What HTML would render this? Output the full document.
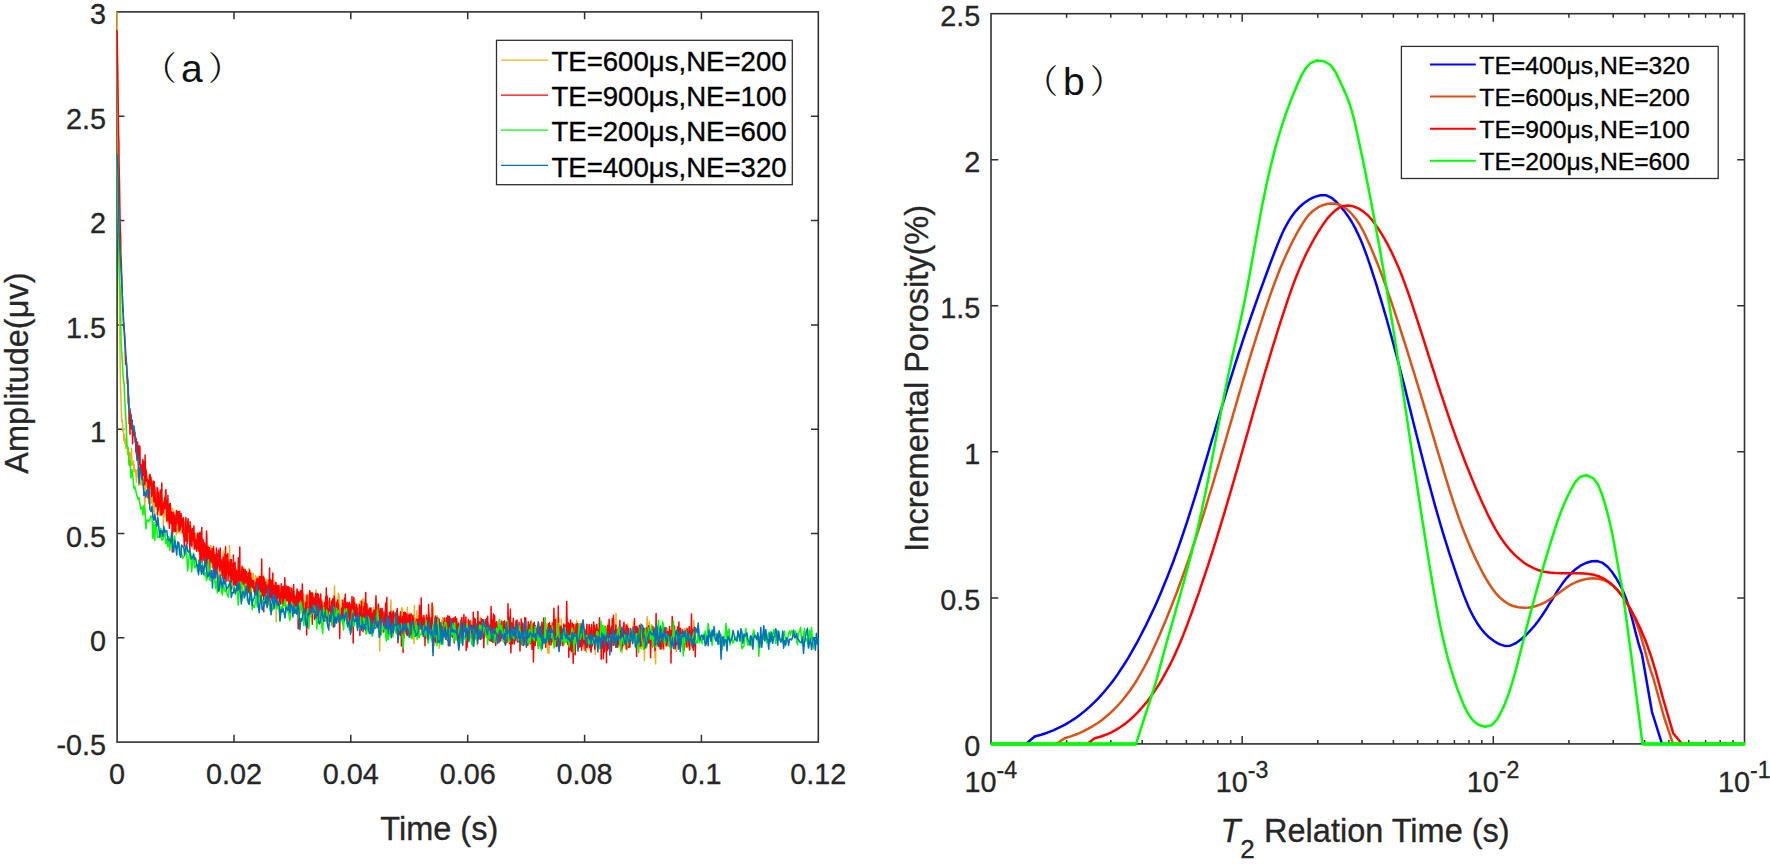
<!DOCTYPE html>
<html lang="en"><head><meta charset="utf-8"><title>NMR echo decay and T2 distribution</title>
<style>html,body{margin:0;padding:0;background:#fff}body{width:1770px;height:864px;overflow:hidden}</style></head>
<body>
<svg width="1770" height="864" viewBox="0 0 1770 864" style="display:block;font-family:'Liberation Sans', 'Noto Sans CJK SC', sans-serif">
<rect width="1770" height="864" fill="#fff"/>
<defs><clipPath id="cl"><rect x="116.1" y="10.9" width="703.0" height="732.2"/></clipPath></defs>
<rect x="117.1" y="11.9" width="701.2" height="730.2" fill="none" stroke="#303030" stroke-width="1.6"/>
<path d="M234.0 742.1v-7.3M234.0 11.9v7.3M350.8 742.1v-7.3M350.8 11.9v7.3M467.7 742.1v-7.3M467.7 11.9v7.3M584.6 742.1v-7.3M584.6 11.9v7.3M701.4 742.1v-7.3M701.4 11.9v7.3M117.1 637.8h7.3M818.3 637.8h-7.3M117.1 533.5h7.3M818.3 533.5h-7.3M117.1 429.2h7.3M818.3 429.2h-7.3M117.1 324.9h7.3M818.3 324.9h-7.3M117.1 220.6h7.3M818.3 220.6h-7.3M117.1 116.3h7.3M818.3 116.3h-7.3" stroke="#303030" stroke-width="1.5" fill="none"/>
<rect x="991.0" y="13.7" width="753.5" height="730.2" fill="none" stroke="#303030" stroke-width="1.6"/>
<path d="M1066.6 743.9v-4.0M1066.6 13.7v4.0M1110.8 743.9v-4.0M1110.8 13.7v4.0M1142.2 743.9v-4.0M1142.2 13.7v4.0M1166.6 743.9v-4.0M1166.6 13.7v4.0M1186.4 743.9v-4.0M1186.4 13.7v4.0M1203.3 743.9v-4.0M1203.3 13.7v4.0M1217.8 743.9v-4.0M1217.8 13.7v4.0M1230.7 743.9v-4.0M1230.7 13.7v4.0M1242.2 743.9v-8.0M1242.2 13.7v8.0M1317.8 743.9v-4.0M1317.8 13.7v4.0M1362.0 743.9v-4.0M1362.0 13.7v4.0M1393.4 743.9v-4.0M1393.4 13.7v4.0M1417.7 743.9v-4.0M1417.7 13.7v4.0M1437.6 743.9v-4.0M1437.6 13.7v4.0M1454.4 743.9v-4.0M1454.4 13.7v4.0M1469.0 743.9v-4.0M1469.0 13.7v4.0M1481.8 743.9v-4.0M1481.8 13.7v4.0M1493.3 743.9v-8.0M1493.3 13.7v8.0M1568.9 743.9v-4.0M1568.9 13.7v4.0M1613.2 743.9v-4.0M1613.2 13.7v4.0M1644.6 743.9v-4.0M1644.6 13.7v4.0M1668.9 743.9v-4.0M1668.9 13.7v4.0M1688.8 743.9v-4.0M1688.8 13.7v4.0M1705.6 743.9v-4.0M1705.6 13.7v4.0M1720.2 743.9v-4.0M1720.2 13.7v4.0M1733.0 743.9v-4.0M1733.0 13.7v4.0M991.0 597.9h7.3M1744.5 597.9h-7.3M991.0 451.8h7.3M1744.5 451.8h-7.3M991.0 305.8h7.3M1744.5 305.8h-7.3M991.0 159.7h7.3M1744.5 159.7h-7.3" stroke="#303030" stroke-width="1.5" fill="none"/>
<g fill="none" stroke-width="1.5" stroke-linejoin="round" clip-path="url(#cl)">
<polyline stroke="#EDB120" points="117.1,12.0 117.5,63.2 117.8,115.9 118.2,160.4 118.5,200.7 118.9,241.1 119.2,276.3 119.6,314.1 119.9,344.3 120.3,372.1 120.6,388.2 121.0,399.5 121.3,409.7 121.7,418.9 122.0,422.1 122.4,420.5 122.7,430.5 123.1,431.4 123.4,429.1 123.8,440.4 124.1,436.4 124.5,434.4 124.8,443.5 125.2,439.5 125.5,438.8 125.9,448.6 126.2,439.3 126.6,443.8 126.9,445.8 127.3,449.3 127.6,454.5 128.0,451.3 128.3,453.9 128.7,453.8 129.0,455.1 129.4,465.3 129.7,452.3 130.1,460.1 130.4,458.1 130.8,466.0 131.1,461.2 131.5,448.5 131.8,460.3 132.2,465.3 132.5,464.9 132.9,462.0 133.2,464.9 133.6,461.0 133.9,472.1 134.3,465.2 134.6,471.1 135.0,471.9 135.3,469.5 135.7,472.1 136.0,474.7 136.4,482.2 136.7,470.2 137.1,471.8 137.4,475.4 137.8,476.7 138.1,469.0 138.5,474.1 138.8,485.6 139.2,481.6 139.5,476.9 139.9,483.8 140.2,470.9 140.6,484.8 140.9,473.7 141.3,481.0 141.6,474.4 142.0,474.5 142.3,485.2 142.7,482.5 143.0,477.5 143.4,482.7 143.7,490.0 144.1,478.5 144.4,488.2 144.8,514.2 145.1,490.7 145.5,486.0 145.8,485.7 146.2,479.6 146.6,484.4 146.9,475.1 147.3,486.8 147.6,488.4 148.0,499.0 148.3,483.7 148.7,481.7 149.0,479.3 149.4,474.2 149.7,478.9 150.1,493.8 150.4,490.3 150.8,503.5 151.1,486.4 151.5,485.9 151.8,484.2 152.2,500.7 152.5,504.2 152.9,511.5 153.2,483.1 153.6,502.2 153.9,490.1 154.3,515.3 154.6,490.5 155.0,506.0 155.3,494.3 155.7,491.0 156.0,503.1 156.4,497.4 156.7,496.6 157.1,492.8 157.4,491.0 157.8,507.7 158.1,506.2 158.5,498.2 158.8,509.1 159.2,515.6 159.5,501.4 159.9,509.9 160.2,498.3 160.6,491.1 160.9,514.1 161.3,498.2 161.6,500.0 162.0,496.9 162.3,505.4 162.7,513.8 163.0,500.3 163.4,526.0 163.7,514.6 164.1,510.2 164.4,505.2 164.8,503.1 165.1,516.9 165.5,507.5 165.8,505.1 166.2,510.6 166.5,509.1 166.9,521.6 167.2,517.1 167.6,507.1 167.9,513.3 168.3,523.7 168.6,518.1 169.0,523.3 169.3,522.0 169.7,519.0 170.0,515.3 170.4,512.3 170.7,506.2 171.1,524.1 171.4,520.6 171.8,515.8 172.1,509.2 172.5,508.5 172.8,523.8 173.2,528.7 173.5,512.8 173.9,511.2 174.2,520.9 174.6,515.0 174.9,513.5 175.3,518.9 175.7,514.0 176.0,531.2 176.4,534.8 176.7,526.8 177.1,530.2 177.4,514.9 177.8,532.7 178.1,520.3 178.5,532.5 178.8,531.7 179.2,526.3 179.5,531.3 179.9,524.9 180.2,525.0 180.6,529.6 180.9,521.6 181.3,533.4 181.6,524.4 182.0,530.2 182.3,530.1 182.7,533.8 183.0,520.0 183.4,522.1 183.7,536.8 184.1,531.9 184.4,534.9 184.8,521.6 185.1,530.7 185.5,530.6 185.8,522.6 186.2,519.0 186.5,528.7 186.9,530.1 187.2,527.4 187.6,541.4 187.9,528.2 188.3,524.6 188.6,531.7 189.0,531.0 189.3,540.8 189.7,527.3 190.0,532.1 190.4,542.5 190.7,526.5 191.1,527.3 191.4,533.7 191.8,533.8 192.1,544.7 192.5,528.1 192.8,531.9 193.2,540.7 193.5,529.7 193.9,540.9 194.2,543.6 194.6,545.2 194.9,538.7 195.3,549.1 195.6,533.6 196.0,542.6 196.3,536.0 196.7,550.5 197.0,539.4 197.4,537.2 197.7,541.3 198.1,549.4 198.4,539.0 198.8,552.1 199.1,551.6 199.5,532.7 199.8,550.5 200.2,544.1 200.5,544.6 200.9,552.4 201.2,541.1 201.6,550.0 201.9,541.0 202.3,548.2 202.6,539.2 203.0,547.1 203.3,554.1 203.7,551.3 204.0,550.3 204.4,552.4 204.8,544.1 205.1,561.1 205.5,551.5 205.8,556.4 206.2,562.6 206.5,571.4 206.9,552.9 207.2,546.6 207.6,565.6 207.9,552.0 208.3,545.8 208.6,555.8 209.0,565.0 209.3,551.8 209.7,559.3 210.0,559.6 210.4,559.8 210.7,545.4 211.1,550.2 211.4,562.1 211.8,561.8 212.1,567.5 212.5,564.1 212.8,550.0 213.2,561.4 213.5,572.2 213.9,564.1 214.2,552.4 214.6,572.7 214.9,555.4 215.3,568.4 215.6,559.5 216.0,586.0 216.3,571.0 216.7,553.6 217.0,565.2 217.4,558.1 217.7,566.3 218.1,571.3 218.4,571.2 218.8,570.8 219.1,570.6 219.5,591.8 219.8,573.4 220.2,553.1 220.5,573.0 220.9,564.9 221.2,572.9 221.6,571.2 221.9,560.6 222.3,566.4 222.6,566.9 223.0,551.3 223.3,559.5 223.7,575.9 224.0,563.8 224.4,566.6 224.7,578.9 225.1,561.4 225.4,565.9 225.8,571.6 226.1,561.9 226.5,576.2 226.8,561.6 227.2,564.8 227.5,572.6 227.9,566.5 228.2,570.1 228.6,569.9 228.9,563.6 229.3,562.6 229.6,545.5 230.0,591.6 230.3,565.6 230.7,580.1 231.0,571.9 231.4,580.5 231.7,577.5 232.1,563.4 232.4,579.9 232.8,564.6 233.1,572.1 233.5,582.0 233.8,567.2 234.2,582.1 234.6,566.9 234.9,583.3 235.3,570.3 235.6,580.6 236.0,577.3 236.3,569.0 236.7,582.4 237.0,571.6 237.4,570.2 237.7,582.9 238.1,594.9 238.4,567.3 238.8,583.0 239.1,575.0 239.5,580.3 239.8,571.5 240.2,585.8 240.5,576.4 240.9,571.0 241.2,572.3 241.6,584.9 241.9,583.0 242.3,600.5 242.6,571.6 243.0,578.0 243.3,584.8 243.7,567.6 244.0,572.3 244.4,574.7 244.7,569.6 245.1,583.8 245.4,584.4 245.8,586.3 246.1,578.3 246.5,586.3 246.8,582.7 247.2,580.8 247.5,584.7 247.9,590.2 248.2,586.8 248.6,592.5 248.9,568.2 249.3,572.6 249.6,587.6 250.0,578.7 250.3,578.7 250.7,582.2 251.0,581.3 251.4,572.8 251.7,574.7 252.1,578.2 252.4,575.9 252.8,585.5 253.1,573.2 253.5,580.6 253.8,583.3 254.2,591.8 254.5,585.1 254.9,579.6 255.2,588.4 255.6,575.6 255.9,583.4 256.3,589.5 256.6,585.8 257.0,576.9 257.3,587.3 257.7,585.4 258.0,588.1 258.4,587.8 258.7,576.0 259.1,593.4 259.4,594.2 259.8,584.4 260.1,591.6 260.5,589.3 260.8,585.1 261.2,598.6 261.5,583.8 261.9,581.2 262.2,591.4 262.6,593.3 262.9,587.6 263.3,586.4 263.7,575.2 264.0,595.6 264.4,585.1 264.7,579.7 265.1,594.5 265.4,579.6 265.8,592.6 266.1,579.5 266.5,597.8 266.8,579.5 267.2,593.6 267.5,592.8 267.9,590.2 268.2,580.5 268.6,588.9 268.9,605.4 269.3,592.5 269.6,582.1 270.0,583.8 270.3,597.6 270.7,595.5 271.0,593.2 271.4,591.5 271.7,596.6 272.1,590.3 272.4,589.0 272.8,585.4 273.1,584.6 273.5,599.5 273.8,597.5 274.2,586.2 274.5,581.0 274.9,594.4 275.2,594.5 275.6,595.5 275.9,598.4 276.3,621.7 276.6,588.9 277.0,599.1 277.3,589.1 277.7,592.8 278.0,593.5 278.4,596.0 278.7,593.8 279.1,602.3 279.4,588.1 279.8,587.4 280.1,601.5 280.5,589.4 280.8,596.9 281.2,602.5 281.5,603.7 281.9,603.1 282.2,600.0 282.6,588.9 282.9,609.8 283.3,591.2 283.6,603.6 284.0,602.0 284.3,604.9 284.7,603.5 285.0,603.6 285.4,586.7 285.7,588.1 286.1,601.9 286.4,597.3 286.8,587.1 287.1,595.0 287.5,596.8 287.8,597.3 288.2,601.2 288.5,595.2 288.9,588.3 289.2,596.7 289.6,590.8 289.9,604.9 290.3,593.2 290.6,587.8 291.0,593.5 291.3,597.8 291.7,595.2 292.0,601.1 292.4,588.8 292.8,598.4 293.1,606.6 293.5,590.7 293.8,607.8 294.2,591.2 294.5,606.0 294.9,601.2 295.2,599.1 295.6,599.4 295.9,608.2 296.3,602.8 296.6,609.7 297.0,590.4 297.3,591.2 297.7,597.9 298.0,613.2 298.4,606.7 298.7,596.1 299.1,607.6 299.4,607.0 299.8,603.7 300.1,610.0 300.5,590.9 300.8,613.5 301.2,599.9 301.5,598.4 301.9,611.8 302.2,592.5 302.6,617.0 302.9,599.5 303.3,606.8 303.6,606.4 304.0,614.2 304.3,606.9 304.7,603.0 305.0,604.3 305.4,596.9 305.7,606.3 306.1,594.8 306.4,598.1 306.8,597.8 307.1,594.5 307.5,608.5 307.8,602.6 308.2,594.5 308.5,594.6 308.9,611.2 309.2,597.5 309.6,612.2 309.9,610.3 310.3,591.1 310.6,607.4 311.0,605.6 311.3,595.3 311.7,604.8 312.0,611.1 312.4,608.3 312.7,613.6 313.1,613.3 313.4,605.4 313.8,603.9 314.1,609.2 314.5,606.7 314.8,594.8 315.2,601.4 315.5,610.3 315.9,589.7 316.2,606.5 316.6,610.7 316.9,609.1 317.3,599.2 317.6,605.7 318.0,609.7 318.3,600.1 318.7,607.4 319.0,612.4 319.4,617.7 319.7,601.1 320.1,598.3 320.4,613.2 320.8,612.5 321.1,599.0 321.5,599.5 321.9,607.2 322.2,604.0 322.6,612.7 322.9,612.5 323.3,602.7 323.6,619.8 324.0,607.9 324.3,606.6 324.7,612.1 325.0,610.8 325.4,606.3 325.7,598.2 326.1,614.3 326.4,616.4 326.8,595.3 327.1,623.9 327.5,609.0 327.8,600.5 328.2,608.4 328.5,607.7 328.9,601.4 329.2,614.9 329.6,597.9 329.9,608.3 330.3,611.3 330.6,615.6 331.0,608.1 331.3,613.0 331.7,618.5 332.0,607.9 332.4,603.1 332.7,614.1 333.1,619.1 333.4,603.1 333.8,610.0 334.1,605.8 334.5,585.9 334.8,600.6 335.2,607.1 335.5,618.3 335.9,606.5 336.2,614.8 336.6,614.8 336.9,619.4 337.3,613.6 337.6,603.5 338.0,617.1 338.3,593.1 338.7,606.6 339.0,595.0 339.4,596.3 339.7,612.4 340.1,617.1 340.4,615.6 340.8,613.1 341.1,619.9 341.5,607.0 341.8,600.1 342.2,620.0 342.5,602.8 342.9,607.8 343.2,616.4 343.6,614.7 343.9,605.2 344.3,609.4 344.6,616.5 345.0,602.5 345.3,614.8 345.7,611.8 346.0,611.6 346.4,610.9 346.7,621.1 347.1,606.4 347.4,612.3 347.8,614.3 348.1,611.1 348.5,617.6 348.8,605.0 349.2,608.9 349.5,619.5 349.9,616.8 350.2,621.6 350.6,611.6 351.0,619.3 351.3,611.6 351.7,606.9 352.0,609.7 352.4,615.2 352.7,616.8 353.1,615.2 353.4,621.9 353.8,615.3 354.1,614.5 354.5,608.7 354.8,599.7 355.2,617.0 355.5,616.2 355.9,615.8 356.2,615.0 356.6,616.2 356.9,606.0 357.3,607.9 357.6,621.3 358.0,619.5 358.3,608.9 358.7,604.0 359.0,624.3 359.4,612.1 359.7,616.8 360.1,609.2 360.4,600.9 360.8,606.6 361.1,624.4 361.5,616.0 361.8,619.4 362.2,611.6 362.5,599.1 362.9,608.1 363.2,622.3 363.6,614.4 363.9,599.4 364.3,615.5 364.6,622.8 365.0,622.8 365.3,618.1 365.7,633.8 366.0,619.8 366.4,613.4 366.7,624.8 367.1,606.4 367.4,615.4 367.8,620.2 368.1,609.7 368.5,616.5 368.8,614.2 369.2,607.8 369.5,621.7 369.9,612.0 370.2,619.9 370.6,616.1 370.9,613.7 371.3,622.6 371.6,620.3 372.0,616.0 372.3,615.3 372.7,624.0 373.0,621.6 373.4,607.3 373.7,620.8 374.1,611.7 374.4,619.2 374.8,618.2 375.1,610.9 375.5,615.7 375.8,613.4 376.2,611.9 376.5,612.3 376.9,621.9 377.2,610.3 377.6,621.4 377.9,611.6 378.3,607.7 378.6,623.0 379.0,606.1 379.3,622.1 379.7,650.9 380.0,627.0 380.4,616.8 380.8,627.6 381.1,620.8 381.5,617.3 381.8,615.8 382.2,625.6 382.5,628.0 382.9,632.8 383.2,612.8 383.6,613.3 383.9,622.0 384.3,617.8 384.6,615.0 385.0,612.0 385.3,619.7 385.7,610.9 386.0,617.1 386.4,625.3 386.7,623.8 387.1,618.6 387.4,639.1 387.8,619.9 388.1,616.2 388.5,627.3 388.8,620.0 389.2,635.2 389.5,621.7 389.9,622.9 390.2,618.0 390.6,619.8 390.9,600.1 391.3,615.9 391.6,621.6 392.0,613.8 392.3,620.7 392.7,627.8 393.0,622.8 393.4,636.8 393.7,627.2 394.1,630.2 394.4,612.7 394.8,629.8 395.1,630.4 395.5,619.1 395.8,613.0 396.2,616.3 396.5,612.6 396.9,613.1 397.2,622.7 397.6,627.1 397.9,631.8 398.3,614.4 398.6,619.4 399.0,614.0 399.3,616.7 399.7,617.5 400.0,617.0 400.4,618.6 400.7,618.7 401.1,631.3 401.4,617.8 401.8,607.6 402.1,625.2 402.5,608.7 402.8,632.0 403.2,612.3 403.5,616.2 403.9,629.5 404.2,616.6 404.6,623.8 404.9,616.2 405.3,629.1 405.6,619.7 406.0,622.3 406.3,625.4 406.7,615.9 407.0,624.8 407.4,607.3 407.7,621.4 408.1,634.0 408.4,628.3 408.8,633.4 409.1,622.2 409.5,616.9 409.9,632.4 410.2,624.1 410.6,617.4 410.9,625.6 411.3,614.8 411.6,617.4 412.0,624.0 412.3,621.3 412.7,632.6 413.0,618.2 413.4,619.0 413.7,638.0 414.1,643.5 414.4,605.6 414.8,631.0 415.1,629.5 415.5,618.3 415.8,625.2 416.2,623.7 416.5,628.2 416.9,610.9 417.2,619.3 417.6,619.7 417.9,631.0 418.3,626.0 418.6,621.9 419.0,615.6 419.3,629.4 419.7,626.9 420.0,623.5 420.4,623.7 420.7,622.7 421.1,615.6 421.4,629.5 421.8,620.1 422.1,631.3 422.5,621.5 422.8,615.8 423.2,624.4 423.5,617.4 423.9,629.0 424.2,638.1 424.6,618.3 424.9,627.3 425.3,625.6 425.6,625.0 426.0,633.3 426.3,616.6 426.7,626.3 427.0,628.9 427.4,620.1 427.7,630.5 428.1,635.0 428.4,630.5 428.8,622.4 429.1,612.7 429.5,626.8 429.8,631.1 430.2,625.0 430.5,633.1 430.9,620.6 431.2,625.1 431.6,632.0 431.9,626.7 432.3,624.2 432.6,621.4 433.0,634.9 433.3,607.0 433.7,620.0 434.0,616.5 434.4,627.5 434.7,645.0 435.1,625.5 435.4,632.6 435.8,630.7 436.1,624.6 436.5,623.6 436.8,620.6 437.2,615.6 437.5,632.3 437.9,628.7 438.2,622.6 438.6,627.5 439.0,632.2 439.3,648.3 439.7,627.8 440.0,630.6 440.4,626.6 440.7,630.8 441.1,631.5 441.4,623.8 441.8,619.9 442.1,628.8 442.5,636.7 442.8,617.5 443.2,629.1 443.5,628.4 443.9,632.3 444.2,621.9 444.6,633.1 444.9,636.4 445.3,623.3 445.6,622.5 446.0,632.5 446.3,633.8 446.7,625.8 447.0,619.1 447.4,632.3 447.7,626.7 448.1,640.3 448.4,626.9 448.8,632.8 449.1,636.6 449.5,624.5 449.8,627.0 450.2,633.6 450.5,629.4 450.9,618.7 451.2,621.8 451.6,624.2 451.9,624.7 452.3,628.1 452.6,629.6 453.0,626.2 453.3,634.1 453.7,629.5 454.0,620.4 454.4,624.3 454.7,630.6 455.1,636.2 455.4,625.5 455.8,623.4 456.1,631.5 456.5,622.2 456.8,633.9 457.2,621.8 457.5,621.1 457.9,623.9 458.2,634.2 458.6,633.9 458.9,637.0 459.3,624.8 459.6,642.3 460.0,628.6 460.3,623.3 460.7,632.8 461.0,630.0 461.4,620.8 461.7,618.8 462.1,636.5 462.4,623.1 462.8,635.1 463.1,638.5 463.5,626.4 463.8,633.1 464.2,631.8 464.5,619.5 464.9,624.0 465.2,618.0 465.6,627.7 465.9,632.4 466.3,638.7 466.6,627.1 467.0,626.4 467.3,638.6 467.7,637.3 468.1,628.6 468.4,620.6 468.8,622.8 469.1,633.5 469.5,631.2 469.8,636.8 470.2,629.2 470.5,620.3 470.9,634.0 471.2,623.6 471.6,636.0 471.9,621.7 472.3,629.2 472.6,627.6 473.0,623.9 473.3,638.4 473.7,635.3 474.0,637.1 474.4,634.5 474.7,619.9 475.1,620.7 475.4,622.5 475.8,633.2 476.1,631.1 476.5,627.8 476.8,628.3 477.2,645.2 477.5,627.8 477.9,620.3 478.2,636.9 478.6,633.6 478.9,623.0 479.3,636.7 479.6,637.3 480.0,636.5 480.3,617.2 480.7,637.4 481.0,638.2 481.4,627.6 481.7,624.8 482.1,625.1 482.4,631.5 482.8,621.9 483.1,637.1 483.5,631.4 483.8,632.8 484.2,634.3 484.5,633.7 484.9,637.3 485.2,620.8 485.6,634.3 485.9,623.0 486.3,622.2 486.6,634.4 487.0,633.1 487.3,629.2 487.7,639.1 488.0,640.0 488.4,632.5 488.7,633.2 489.1,639.0 489.4,634.9 489.8,626.8 490.1,639.3 490.5,621.7 490.8,636.3 491.2,624.0 491.5,636.6 491.9,625.7 492.2,637.7 492.6,642.4 492.9,625.5 493.3,630.9 493.6,627.6 494.0,629.5 494.3,627.8 494.7,624.7 495.0,627.1 495.4,639.9 495.7,632.7 496.1,626.1 496.4,632.3 496.8,621.8 497.2,630.5 497.5,634.9 497.9,631.4 498.2,632.8 498.6,630.3 498.9,627.6 499.3,624.2 499.6,637.1 500.0,623.9 500.3,629.9 500.7,634.0 501.0,634.7 501.4,621.9 501.7,622.6 502.1,635.4 502.4,635.0 502.8,622.1 503.1,641.1 503.5,640.5 503.8,631.8 504.2,629.9 504.5,641.4 504.9,637.8 505.2,639.9 505.6,636.6 505.9,638.0 506.3,639.2 506.6,639.1 507.0,634.3 507.3,639.1 507.7,626.4 508.0,633.7 508.4,639.4 508.7,628.9 509.1,629.3 509.4,635.1 509.8,641.7 510.1,628.6 510.5,637.4 510.8,624.3 511.2,627.8 511.5,630.1 511.9,622.2 512.2,637.3 512.6,640.7 512.9,625.8 513.3,630.9 513.6,636.4 514.0,634.9 514.3,636.4 514.7,629.4 515.0,623.9 515.4,641.1 515.7,634.6 516.1,637.0 516.4,634.6 516.8,630.1 517.1,632.9 517.5,622.9 517.8,625.6 518.2,625.5 518.5,637.4 518.9,634.0 519.2,641.8 519.6,627.4 519.9,627.2 520.3,636.6 520.6,624.5 521.0,644.0 521.3,631.3 521.7,632.5 522.0,634.3 522.4,628.3 522.7,623.3 523.1,627.2 523.4,634.4 523.8,634.1 524.1,642.2 524.5,634.4 524.8,639.2 525.2,640.3 525.5,626.5 525.9,642.3 526.3,646.1 526.6,636.4 527.0,631.5 527.3,634.3 527.7,626.8 528.0,638.1 528.4,638.8 528.7,632.7 529.1,640.8 529.4,635.6 529.8,624.4 530.1,626.9 530.5,625.5 530.8,641.5 531.2,620.3 531.5,625.1 531.9,626.4 532.2,631.3 532.6,641.6 532.9,646.0 533.3,635.6 533.6,641.8 534.0,625.3 534.3,637.4 534.7,641.4 535.0,643.1 535.4,633.1 535.7,632.8 536.1,642.4 536.4,630.1 536.8,629.4 537.1,629.4 537.5,628.6 537.8,629.9 538.2,628.1 538.5,635.8 538.9,624.4 539.2,633.8 539.6,638.1 539.9,623.8 540.3,637.9 540.6,634.7 541.0,629.7 541.3,627.7 541.7,637.2 542.0,638.6 542.4,629.3 542.7,631.8 543.1,629.1 543.4,638.4 543.8,627.3 544.1,628.3 544.5,626.6 544.8,628.7 545.2,630.3 545.5,637.0 545.9,626.7 546.2,624.1 546.6,630.6 546.9,628.1 547.3,645.0 547.6,652.8 548.0,642.4 548.3,625.3 548.7,628.5 549.0,653.5 549.4,634.3 549.7,638.0 550.1,630.9 550.4,633.6 550.8,641.9 551.1,634.8 551.5,643.5 551.8,623.1 552.2,642.8 552.5,632.3 552.9,630.1 553.2,635.3 553.6,626.6 553.9,625.1 554.3,640.3 554.6,632.0 555.0,646.1 555.4,641.7 555.7,626.2 556.1,631.8 556.4,618.1 556.8,636.8 557.1,632.2 557.5,641.9 557.8,638.3 558.2,631.7 558.5,632.4 558.9,617.7 559.2,634.1 559.6,637.9 559.9,624.8 560.3,625.7 560.6,628.1 561.0,643.1 561.3,619.1 561.7,640.2 562.0,628.0 562.4,640.4 562.7,640.0 563.1,639.3 563.4,634.3 563.8,644.6 564.1,627.5 564.5,643.0 564.8,630.4 565.2,639.9 565.5,642.4 565.9,630.4 566.2,639.8 566.6,640.5 566.9,617.3 567.3,630.0 567.6,644.2 568.0,625.7 568.3,628.9 568.7,641.5 569.0,632.0 569.4,642.5 569.7,625.0 570.1,636.2 570.4,643.4 570.8,641.5 571.1,630.6 571.5,622.7 571.8,639.7 572.2,633.0 572.5,633.6 572.9,632.0 573.2,630.5 573.6,638.4 573.9,637.5 574.3,637.2 574.6,627.0 575.0,636.7 575.3,625.2 575.7,641.5 576.0,628.6 576.4,627.0 576.7,620.3 577.1,631.3 577.4,643.8 577.8,624.8 578.1,631.5 578.5,633.6 578.8,631.1 579.2,641.9 579.5,628.3 579.9,634.6 580.2,633.1 580.6,634.4 580.9,640.7 581.3,640.4 581.6,630.0 582.0,639.7 582.3,642.7 582.7,641.0 583.0,637.2 583.4,627.9 583.7,648.9 584.1,634.2 584.4,644.5 584.8,638.0 585.2,639.4 585.5,642.0 585.9,635.8 586.2,637.5 586.6,652.2 586.9,633.2 587.3,640.5 587.6,631.6 588.0,640.4 588.3,625.8 588.7,642.2 589.0,626.6 589.4,644.1 589.7,645.3 590.1,643.5 590.4,631.4 590.8,640.8 591.1,640.0 591.5,632.1 591.8,644.7 592.2,634.8 592.5,637.5 592.9,642.3 593.2,627.4 593.6,638.4 593.9,639.8 594.3,631.8 594.6,628.6 595.0,641.0 595.3,654.6 595.7,626.5 596.0,643.1 596.4,635.0 596.7,633.5 597.1,629.2 597.4,637.1 597.8,630.6 598.1,635.3 598.5,644.1 598.8,635.6 599.2,623.4 599.5,635.2 599.9,637.9 600.2,634.8 600.6,631.8 600.9,638.0 601.3,639.3 601.6,638.4 602.0,644.9 602.3,647.9 602.7,640.0 603.0,631.6 603.4,644.9 603.7,641.3 604.1,637.1 604.4,628.3 604.8,644.2 605.1,634.8 605.5,628.2 605.8,629.9 606.2,631.8 606.5,634.7 606.9,634.1 607.2,642.1 607.6,624.1 607.9,644.8 608.3,644.1 608.6,633.8 609.0,633.9 609.3,645.2 609.7,629.4 610.0,637.2 610.4,635.3 610.7,644.6 611.1,629.0 611.4,650.6 611.8,625.9 612.1,636.8 612.5,636.2 612.8,635.5 613.2,639.9 613.5,645.4 613.9,619.6 614.3,637.6 614.6,630.0 615.0,632.9 615.3,630.0 615.7,635.0 616.0,613.4 616.4,643.6 616.7,631.4 617.1,630.9 617.4,630.9 617.8,627.8 618.1,638.0 618.5,646.1 618.8,631.8 619.2,640.7 619.5,633.3 619.9,645.3 620.2,639.2 620.6,633.7 620.9,643.8 621.3,640.0 621.6,643.4 622.0,652.4 622.3,635.2 622.7,633.7 623.0,636.1 623.4,627.0 623.7,641.2 624.1,632.4 624.4,644.7 624.8,634.1 625.1,642.5 625.5,646.2 625.8,628.4 626.2,640.9 626.5,629.4 626.9,633.0 627.2,649.9 627.6,623.7 627.9,626.8 628.3,641.0 628.6,626.9 629.0,640.1 629.3,644.7 629.7,628.3 630.0,644.6 630.4,629.3 630.7,630.0 631.1,632.1 631.4,632.3 631.8,633.9 632.1,632.9 632.5,643.6 632.8,632.7 633.2,630.0 633.5,622.0 633.9,627.6 634.2,627.8 634.6,640.3 634.9,627.7 635.3,634.9 635.6,644.4 636.0,631.9 636.3,628.6 636.7,630.4 637.0,631.2 637.4,638.6 637.7,642.5 638.1,639.4 638.4,639.1 638.8,644.8 639.1,646.6 639.5,628.2 639.8,641.2 640.2,648.3 640.5,627.9 640.9,623.4 641.2,639.9 641.6,648.9 641.9,629.5 642.3,644.6 642.6,633.5 643.0,645.1 643.4,628.1 643.7,641.7 644.1,634.9 644.4,660.8 644.8,636.8 645.1,642.7 645.5,639.3 645.8,632.8 646.2,634.7 646.5,635.4 646.9,623.2 647.2,616.6 647.6,633.8 647.9,627.6 648.3,636.4 648.6,636.2 649.0,634.8 649.3,621.5 649.7,638.9 650.0,642.1 650.4,636.4 650.7,642.2 651.1,634.0 651.4,629.5 651.8,631.2 652.1,631.5 652.5,638.8 652.8,646.4 653.2,643.0 653.5,635.8 653.9,644.6 654.2,645.1 654.6,627.3 654.9,657.7 655.3,645.9 655.6,664.1 656.0,633.3 656.3,638.0 656.7,644.6 657.0,631.0 657.4,646.1 657.7,632.7 658.1,642.1 658.4,646.4 658.8,635.9 659.1,630.7 659.5,634.5 659.8,644.3 660.2,647.2 660.5,638.2 660.9,646.3 661.2,630.7 661.6,645.9 661.9,641.2 662.3,632.0 662.6,643.0 663.0,637.1 663.3,637.3 663.7,649.9 664.0,649.6 664.4,633.5 664.7,643.4 665.1,638.8 665.4,641.2 665.8,628.8 666.1,634.1 666.5,628.6 666.8,632.2 667.2,631.7 667.5,628.5 667.9,630.5 668.2,640.7 668.6,631.0 668.9,633.3 669.3,637.3 669.6,639.6 670.0,635.5 670.3,635.0 670.7,633.8 671.0,646.1 671.4,642.5 671.7,636.3 672.1,630.5 672.5,642.8 672.8,629.7 673.2,628.1 673.5,645.7 673.9,633.1 674.2,639.6 674.6,644.7 674.9,643.1 675.3,640.3 675.6,647.1 676.0,633.7 676.3,651.4 676.7,640.7 677.0,630.3 677.4,628.4 677.7,638.4 678.1,641.4 678.4,635.6 678.8,639.5 679.1,629.9 679.5,641.8 679.8,641.5 680.2,647.3 680.5,644.2 680.9,645.7 681.2,629.5 681.6,634.1 681.9,642.6 682.3,647.8 682.6,635.3 683.0,633.6 683.3,644.5 683.7,641.9 684.0,635.4 684.4,631.1 684.7,628.3 685.1,647.2 685.4,642.0 685.8,641.9 686.1,636.2 686.5,629.4 686.8,628.3 687.2,636.4 687.5,647.2 687.9,635.6 688.2,634.7 688.6,629.3 688.9,644.8 689.3,650.3 689.6,630.3 690.0,645.9 690.3,631.7 690.7,635.9 691.0,638.2 691.4,639.4 691.7,634.3 692.1,630.4 692.4,632.6 692.8,646.9 693.1,640.1 693.5,647.0 693.8,620.5 694.2,638.4 694.5,644.9 694.9,641.0 695.2,636.2 695.6,643.9"/>
<polyline stroke="#FF0000" points="117.1,30.3 117.4,54.7 117.7,72.7 118.0,89.6 118.3,113.0 118.6,135.7 118.9,142.9 119.1,165.3 119.4,177.3 119.7,196.6 120.0,215.7 120.3,228.7 120.6,236.0 120.9,255.7 121.2,259.5 121.5,270.7 121.8,276.4 122.1,287.5 122.4,301.4 122.7,311.2 122.9,307.3 123.2,313.1 123.5,324.4 123.8,329.4 124.1,325.7 124.4,333.9 124.7,342.4 125.0,344.4 125.3,355.1 125.6,364.6 125.9,356.7 126.2,361.3 126.4,361.8 126.7,366.7 127.0,377.8 127.3,383.5 127.6,379.3 127.9,391.2 128.2,403.7 128.5,395.7 128.8,401.6 129.1,423.5 129.4,411.4 129.7,414.7 130.0,434.2 130.2,419.5 130.5,417.7 130.8,424.8 131.1,414.5 131.4,425.4 131.7,429.2 132.0,427.7 132.3,420.0 132.6,443.7 132.9,434.6 133.2,435.9 133.5,431.3 133.8,435.0 134.0,430.4 134.3,428.8 134.6,435.3 134.9,432.6 135.2,442.3 135.5,437.2 135.8,451.5 136.1,438.2 136.4,453.5 136.7,452.6 137.0,446.2 137.3,449.1 137.6,442.1 137.8,458.9 138.1,446.5 138.4,455.4 138.7,448.6 139.0,445.7 139.3,464.6 139.6,464.3 139.9,446.3 140.2,470.9 140.5,464.6 140.8,465.3 141.1,472.6 141.3,468.6 141.6,472.3 141.9,473.8 142.2,463.9 142.5,477.7 142.8,459.6 143.1,466.1 143.4,475.2 143.7,471.2 144.0,461.5 144.3,470.3 144.6,480.0 144.9,484.8 145.1,454.9 145.4,473.5 145.7,468.2 146.0,480.6 146.3,470.8 146.6,481.1 146.9,481.3 147.2,481.1 147.5,479.6 147.8,482.1 148.1,497.5 148.4,493.0 148.7,494.2 148.9,480.3 149.2,503.6 149.5,475.8 149.8,476.9 150.1,474.4 150.4,485.2 150.7,484.5 151.0,477.4 151.3,482.7 151.6,496.5 151.9,486.2 152.2,494.7 152.5,493.5 152.7,490.1 153.0,480.9 153.3,495.6 153.6,496.6 153.9,501.7 154.2,481.6 154.5,501.7 154.8,487.1 155.1,495.3 155.4,502.1 155.7,506.1 156.0,506.7 156.3,504.1 156.5,505.1 156.8,506.1 157.1,487.4 157.4,515.0 157.7,488.6 158.0,507.3 158.3,492.4 158.6,510.4 158.9,500.0 159.2,499.0 159.5,505.5 159.8,506.4 160.0,494.1 160.3,489.9 160.6,492.7 160.9,515.3 161.2,514.5 161.5,514.7 161.8,483.0 162.1,514.8 162.4,509.4 162.7,505.5 163.0,509.9 163.3,512.8 163.6,502.5 163.8,509.1 164.1,501.5 164.4,509.1 164.7,499.5 165.0,496.9 165.3,507.5 165.6,490.3 165.9,489.6 166.2,509.1 166.5,506.8 166.8,521.1 167.1,500.7 167.4,506.0 167.6,507.4 167.9,495.5 168.2,520.7 168.5,519.2 168.8,506.9 169.1,504.1 169.4,528.2 169.7,508.5 170.0,505.6 170.3,503.5 170.6,519.2 170.9,520.6 171.2,523.8 171.4,516.4 171.7,512.0 172.0,525.0 172.3,552.0 172.6,521.0 172.9,517.5 173.2,512.5 173.5,522.7 173.8,514.4 174.1,531.7 174.4,515.5 174.7,521.6 174.9,522.8 175.2,521.0 175.5,529.8 175.8,531.6 176.1,516.1 176.4,510.5 176.7,523.7 177.0,518.8 177.3,511.7 177.6,522.4 177.9,520.3 178.2,511.5 178.5,512.5 178.7,525.5 179.0,531.3 179.3,523.9 179.6,511.2 179.9,524.0 180.2,529.8 180.5,522.9 180.8,523.0 181.1,513.5 181.4,524.1 181.7,520.9 182.0,526.4 182.3,518.6 182.5,526.6 182.8,532.8 183.1,533.0 183.4,517.7 183.7,534.4 184.0,538.1 184.3,546.2 184.6,538.1 184.9,540.0 185.2,534.8 185.5,524.0 185.8,517.4 186.1,541.3 186.3,533.0 186.6,524.9 186.9,524.5 187.2,543.7 187.5,529.9 187.8,521.6 188.1,518.8 188.4,531.4 188.7,525.7 189.0,527.7 189.3,533.0 189.6,533.0 189.8,553.5 190.1,521.8 190.4,535.4 190.7,528.2 191.0,545.0 191.3,536.6 191.6,537.2 191.9,546.6 192.2,530.8 192.5,528.8 192.8,535.2 193.1,531.4 193.4,541.1 193.6,532.1 193.9,525.9 194.2,549.3 194.5,533.3 194.8,537.6 195.1,539.4 195.4,544.3 195.7,547.9 196.0,545.7 196.3,540.1 196.6,551.2 196.9,545.4 197.2,549.1 197.4,533.3 197.7,546.1 198.0,533.5 198.3,543.9 198.6,544.4 198.9,551.2 199.2,548.3 199.5,532.7 199.8,550.3 200.1,570.8 200.4,535.5 200.7,532.5 201.0,559.4 201.2,547.3 201.5,541.5 201.8,527.6 202.1,563.1 202.4,540.1 202.7,544.5 203.0,539.5 203.3,552.1 203.6,552.7 203.9,560.3 204.2,558.4 204.5,542.8 204.8,548.8 205.0,566.4 205.3,556.2 205.6,558.4 205.9,564.5 206.2,547.0 206.5,531.0 206.8,536.1 207.1,552.8 207.4,563.7 207.7,546.3 208.0,552.5 208.3,567.9 208.5,550.0 208.8,556.9 209.1,552.2 209.4,547.4 209.7,577.6 210.0,550.4 210.3,550.9 210.6,561.3 210.9,556.9 211.2,552.0 211.5,552.7 211.8,562.5 212.1,548.5 212.3,555.5 212.6,554.5 212.9,563.3 213.2,567.1 213.5,546.6 213.8,549.5 214.1,559.8 214.4,575.7 214.7,567.0 215.0,554.7 215.3,573.2 215.6,568.1 215.9,566.1 216.1,569.8 216.4,547.9 216.7,561.4 217.0,570.2 217.3,566.5 217.6,554.0 217.9,556.3 218.2,566.0 218.5,550.0 218.8,564.0 219.1,564.5 219.4,561.2 219.7,570.8 219.9,569.2 220.2,548.0 220.5,560.2 220.8,562.3 221.1,568.8 221.4,559.8 221.7,563.8 222.0,575.4 222.3,571.0 222.6,562.7 222.9,578.6 223.2,557.0 223.4,565.1 223.7,572.1 224.0,562.1 224.3,560.3 224.6,579.2 224.9,553.8 225.2,562.9 225.5,546.8 225.8,560.7 226.1,581.3 226.4,555.1 226.7,569.6 227.0,567.3 227.2,572.9 227.5,558.3 227.8,553.8 228.1,581.1 228.4,561.3 228.7,576.9 229.0,571.1 229.3,574.9 229.6,563.6 229.9,570.4 230.2,559.6 230.5,560.9 230.8,578.8 231.0,562.5 231.3,559.7 231.6,589.2 231.9,575.0 232.2,576.5 232.5,564.0 232.8,563.5 233.1,579.6 233.4,554.9 233.7,585.1 234.0,585.2 234.3,578.6 234.6,567.3 234.8,565.1 235.1,562.3 235.4,578.9 235.7,585.4 236.0,581.5 236.3,570.5 236.6,585.6 236.9,571.7 237.2,578.2 237.5,579.0 237.8,591.1 238.1,567.1 238.3,557.7 238.6,562.6 238.9,574.4 239.2,572.4 239.5,581.6 239.8,547.1 240.1,588.1 240.4,581.1 240.7,576.4 241.0,587.9 241.3,577.8 241.6,573.3 241.9,567.9 242.1,566.3 242.4,569.4 242.7,575.2 243.0,584.0 243.3,569.3 243.6,576.4 243.9,571.7 244.2,579.8 244.5,589.8 244.8,576.6 245.1,569.2 245.4,575.3 245.7,589.5 245.9,573.3 246.2,572.7 246.5,571.5 246.8,579.6 247.1,581.1 247.4,576.8 247.7,592.6 248.0,591.8 248.3,572.7 248.6,586.4 248.9,579.2 249.2,579.4 249.5,593.6 249.7,570.0 250.0,589.2 250.3,576.1 250.6,573.4 250.9,591.6 251.2,578.2 251.5,584.5 251.8,583.3 252.1,586.2 252.4,580.2 252.7,587.3 253.0,586.1 253.2,588.4 253.5,580.8 253.8,583.3 254.1,591.8 254.4,587.2 254.7,593.8 255.0,590.1 255.3,593.1 255.6,589.8 255.9,581.9 256.2,595.2 256.5,596.1 256.8,579.0 257.0,599.4 257.3,583.3 257.6,584.7 257.9,578.2 258.2,581.7 258.5,595.8 258.8,592.0 259.1,591.2 259.4,592.2 259.7,576.6 260.0,576.6 260.3,585.1 260.6,584.4 260.8,591.8 261.1,577.7 261.4,585.8 261.7,559.1 262.0,595.3 262.3,584.2 262.6,595.8 262.9,591.5 263.2,576.7 263.5,584.9 263.8,611.7 264.1,578.1 264.4,605.2 264.6,581.0 264.9,599.4 265.2,592.0 265.5,584.4 265.8,582.6 266.1,592.4 266.4,585.2 266.7,590.5 267.0,590.1 267.3,594.4 267.6,586.6 267.9,604.5 268.2,584.2 268.4,600.7 268.7,599.0 269.0,579.4 269.3,580.5 269.6,568.0 269.9,598.0 270.2,598.1 270.5,579.7 270.8,595.4 271.1,581.7 271.4,580.6 271.7,597.2 271.9,599.2 272.2,600.8 272.5,597.1 272.8,573.1 273.1,598.3 273.4,596.4 273.7,601.1 274.0,596.6 274.3,585.6 274.6,588.0 274.9,603.3 275.2,590.4 275.5,596.2 275.7,582.5 276.0,582.6 276.3,593.0 276.6,591.7 276.9,604.9 277.2,594.7 277.5,587.7 277.8,585.2 278.1,597.6 278.4,593.1 278.7,588.3 279.0,585.4 279.3,601.3 279.5,595.6 279.8,593.9 280.1,593.6 280.4,599.7 280.7,604.1 281.0,589.0 281.3,583.7 281.6,596.9 281.9,586.7 282.2,595.0 282.5,593.3 282.8,603.2 283.1,586.8 283.3,605.8 283.6,600.6 283.9,605.7 284.2,585.4 284.5,589.8 284.8,577.8 285.1,588.5 285.4,604.8 285.7,596.1 286.0,593.0 286.3,585.9 286.6,598.1 286.8,594.6 287.1,600.6 287.4,589.0 287.7,587.9 288.0,586.5 288.3,586.8 288.6,607.8 288.9,591.9 289.2,610.8 289.5,587.6 289.8,599.9 290.1,607.8 290.4,600.6 290.6,608.4 290.9,603.5 291.2,594.3 291.5,588.2 291.8,593.4 292.1,599.2 292.4,591.4 292.7,602.9 293.0,604.1 293.3,597.6 293.6,584.5 293.9,594.3 294.2,594.2 294.4,596.6 294.7,610.6 295.0,602.3 295.3,598.7 295.6,604.2 295.9,596.0 296.2,611.1 296.5,595.7 296.8,593.7 297.1,588.9 297.4,598.1 297.7,600.1 298.0,603.5 298.2,628.7 298.5,591.8 298.8,599.6 299.1,593.3 299.4,601.6 299.7,593.2 300.0,593.4 300.3,591.1 300.6,599.2 300.9,590.4 301.2,590.9 301.5,605.9 301.7,609.0 302.0,604.9 302.3,583.9 302.6,592.3 302.9,594.1 303.2,609.5 303.5,610.5 303.8,612.4 304.1,609.9 304.4,614.2 304.7,612.2 305.0,613.7 305.3,604.3 305.5,602.2 305.8,607.4 306.1,616.6 306.4,612.5 306.7,635.0 307.0,595.6 307.3,627.5 307.6,612.1 307.9,609.2 308.2,610.0 308.5,614.7 308.8,607.3 309.1,610.1 309.3,600.5 309.6,590.8 309.9,600.3 310.2,614.5 310.5,596.0 310.8,593.2 311.1,592.9 311.4,609.3 311.7,599.9 312.0,612.0 312.3,624.3 312.6,592.9 312.9,598.8 313.1,601.4 313.4,605.5 313.7,597.4 314.0,600.3 314.3,601.4 314.6,619.4 314.9,600.1 315.2,605.6 315.5,597.4 315.8,593.6 316.1,593.4 316.4,605.2 316.6,609.6 316.9,603.8 317.2,601.4 317.5,593.7 317.8,621.1 318.1,611.6 318.4,594.2 318.7,599.4 319.0,597.7 319.3,607.3 319.6,607.0 319.9,609.2 320.2,614.7 320.4,612.7 320.7,594.1 321.0,611.6 321.3,612.9 321.6,601.2 321.9,603.8 322.2,609.2 322.5,610.7 322.8,615.1 323.1,606.8 323.4,618.0 323.7,612.3 324.0,607.0 324.2,607.5 324.5,602.6 324.8,620.9 325.1,606.8 325.4,612.3 325.7,596.5 326.0,615.7 326.3,587.9 326.6,615.3 326.9,612.3 327.2,596.2 327.5,617.2 327.8,621.5 328.0,616.8 328.3,611.5 328.6,611.3 328.9,608.3 329.2,611.1 329.5,598.3 329.8,608.6 330.1,606.4 330.4,607.9 330.7,610.4 331.0,615.5 331.3,615.4 331.6,601.1 331.8,609.5 332.1,610.2 332.4,615.2 332.7,598.8 333.0,616.0 333.3,627.0 333.6,601.4 333.9,616.1 334.2,596.0 334.5,600.9 334.8,616.9 335.1,620.7 335.3,618.8 335.6,614.8 335.9,621.5 336.2,613.4 336.5,602.7 336.8,603.5 337.1,601.7 337.4,601.6 337.7,600.0 338.0,612.7 338.3,603.7 338.6,607.7 338.9,622.3 339.1,613.8 339.4,618.2 339.7,638.5 340.0,618.1 340.3,615.6 340.6,620.5 340.9,617.6 341.2,618.1 341.5,608.0 341.8,618.0 342.1,618.1 342.4,612.2 342.7,614.2 342.9,600.1 343.2,624.1 343.5,619.3 343.8,621.1 344.1,603.4 344.4,617.3 344.7,598.0 345.0,608.3 345.3,593.9 345.6,616.7 345.9,604.3 346.2,603.1 346.5,606.3 346.7,610.5 347.0,623.4 347.3,602.4 347.6,603.2 347.9,607.7 348.2,609.6 348.5,615.9 348.8,604.0 349.1,623.9 349.4,602.2 349.7,603.0 350.0,620.8 350.2,615.2 350.5,605.0 350.8,632.2 351.1,618.5 351.4,620.4 351.7,608.1 352.0,596.6 352.3,615.7 352.6,604.5 352.9,609.9 353.2,643.1 353.5,602.6 353.8,597.4 354.0,606.2 354.3,612.7 354.6,602.7 354.9,615.2 355.2,615.7 355.5,613.7 355.8,620.9 356.1,614.2 356.4,604.3 356.7,608.6 357.0,611.9 357.3,608.1 357.6,622.1 357.8,623.1 358.1,617.6 358.4,614.9 358.7,623.8 359.0,613.1 359.3,613.4 359.6,604.6 359.9,635.4 360.2,619.6 360.5,620.9 360.8,607.0 361.1,611.7 361.4,608.7 361.6,601.3 361.9,625.4 362.2,617.0 362.5,616.9 362.8,613.6 363.1,631.8 363.4,616.5 363.7,606.7 364.0,607.4 364.3,617.6 364.6,615.8 364.9,602.6 365.1,618.9 365.4,603.5 365.7,592.5 366.0,614.9 366.3,615.4 366.6,621.0 366.9,603.8 367.2,614.6 367.5,620.4 367.8,626.3 368.1,610.0 368.4,620.1 368.7,613.7 368.9,618.9 369.2,629.2 369.5,608.5 369.8,616.3 370.1,626.4 370.4,618.6 370.7,624.9 371.0,607.7 371.3,618.4 371.6,625.2 371.9,628.7 372.2,613.8 372.5,624.2 372.7,619.2 373.0,625.5 373.3,611.3 373.6,619.8 373.9,610.5 374.2,617.2 374.5,619.6 374.8,619.2 375.1,608.9 375.4,628.2 375.7,606.3 376.0,595.7 376.3,611.2 376.5,618.1 376.8,617.5 377.1,618.9 377.4,627.6 377.7,614.1 378.0,612.7 378.3,604.1 378.6,625.6 378.9,621.8 379.2,611.2 379.5,624.8 379.8,611.7 380.1,628.7 380.3,608.8 380.6,626.1 380.9,609.1 381.2,621.0 381.5,619.6 381.8,611.8 382.1,608.3 382.4,616.1 382.7,612.5 383.0,611.6 383.3,622.2 383.6,622.0 383.8,631.9 384.1,624.3 384.4,619.1 384.7,618.9 385.0,611.8 385.3,612.9 385.6,603.1 385.9,636.5 386.2,628.7 386.5,622.0 386.8,597.4 387.1,617.0 387.4,630.6 387.6,616.7 387.9,630.8 388.2,633.3 388.5,616.4 388.8,618.3 389.1,619.4 389.4,612.6 389.7,622.6 390.0,628.8 390.3,619.5 390.6,611.6 390.9,626.8 391.2,619.3 391.4,633.5 391.7,629.2 392.0,617.0 392.3,613.1 392.6,619.2 392.9,625.5 393.2,611.1 393.5,615.6 393.8,617.4 394.1,625.3 394.4,626.2 394.7,620.8 395.0,617.5 395.2,613.1 395.5,619.8 395.8,623.8 396.1,632.3 396.4,623.9 396.7,610.8 397.0,620.6 397.3,608.5 397.6,620.2 397.9,642.8 398.2,628.4 398.5,616.5 398.7,634.2 399.0,616.8 399.3,628.5 399.6,630.4 399.9,618.0 400.2,635.2 400.5,611.8 400.8,623.0 401.1,623.1 401.4,646.0 401.7,619.1 402.0,626.9 402.3,620.4 402.5,616.4 402.8,626.5 403.1,652.5 403.4,627.4 403.7,612.7 404.0,634.6 404.3,637.2 404.6,612.2 404.9,620.1 405.2,630.6 405.5,612.6 405.8,624.3 406.1,622.8 406.3,633.9 406.6,629.0 406.9,614.0 407.2,635.8 407.5,627.5 407.8,631.4 408.1,628.2 408.4,621.1 408.7,615.3 409.0,616.2 409.3,614.2 409.6,619.2 409.9,637.0 410.1,632.6 410.4,615.2 410.7,626.3 411.0,613.5 411.3,635.7 411.6,634.4 411.9,629.1 412.2,636.7 412.5,630.9 412.8,615.3 413.1,617.2 413.4,628.7 413.6,618.3 413.9,633.5 414.2,634.0 414.5,627.6 414.8,635.9 415.1,628.2 415.4,636.4 415.7,631.6 416.0,620.9 416.3,628.4 416.6,619.6 416.9,623.6 417.2,635.1 417.4,630.8 417.7,619.3 418.0,634.1 418.3,624.0 418.6,636.9 418.9,626.2 419.2,618.7 419.5,605.3 419.8,617.5 420.1,610.1 420.4,613.7 420.7,619.9 421.0,629.3 421.2,598.0 421.5,629.3 421.8,623.8 422.1,617.7 422.4,626.0 422.7,624.8 423.0,619.6 423.3,624.4 423.6,629.3 423.9,615.5 424.2,618.9 424.5,624.9 424.8,620.2 425.0,645.8 425.3,620.8 425.6,638.6 425.9,631.4 426.2,621.1 426.5,614.9 426.8,628.0 427.1,630.2 427.4,617.9 427.7,636.2 428.0,625.7 428.3,637.3 428.5,604.5 428.8,615.9 429.1,615.0 429.4,629.5 429.7,617.7 430.0,622.7 430.3,633.2 430.6,637.3 430.9,624.2 431.2,630.3 431.5,617.4 431.8,631.5 432.1,603.1 432.3,623.9 432.6,625.1 432.9,630.7 433.2,643.6 433.5,626.8 433.8,631.3 434.1,626.0 434.4,639.6 434.7,627.7 435.0,640.9 435.3,641.6 435.6,616.0 435.9,617.8 436.1,642.8 436.4,639.1 436.7,617.9 437.0,623.6 437.3,636.3 437.6,617.8 437.9,624.2 438.2,633.8 438.5,619.8 438.8,632.8 439.1,619.1 439.4,624.4 439.7,631.5 439.9,631.9 440.2,633.0 440.5,635.9 440.8,633.7 441.1,631.0 441.4,632.9 441.7,629.4 442.0,631.6 442.3,637.7 442.6,627.0 442.9,635.6 443.2,626.3 443.5,633.6 443.7,622.0 444.0,628.9 444.3,617.9 444.6,622.5 444.9,635.5 445.2,622.4 445.5,622.7 445.8,638.8 446.1,626.6 446.4,617.8 446.7,628.9 447.0,627.7 447.2,640.1 447.5,620.7 447.8,615.8 448.1,639.3 448.4,645.7 448.7,635.8 449.0,619.9 449.3,616.3 449.6,617.3 449.9,632.3 450.2,632.2 450.5,618.4 450.8,634.4 451.0,619.1 451.3,630.9 451.6,634.6 451.9,636.2 452.2,619.8 452.5,637.2 452.8,618.6 453.1,618.5 453.4,620.7 453.7,633.0 454.0,618.1 454.3,643.0 454.6,618.0 454.8,634.1 455.1,639.2 455.4,616.8 455.7,632.9 456.0,635.5 456.3,629.1 456.6,618.5 456.9,638.8 457.2,626.2 457.5,640.5 457.8,631.4 458.1,624.6 458.4,631.0 458.6,622.9 458.9,630.6 459.2,646.6 459.5,631.7 459.8,629.3 460.1,631.0 460.4,635.2 460.7,637.7 461.0,620.3 461.3,636.6 461.6,640.6 461.9,617.6 462.1,633.6 462.4,638.9 462.7,627.0 463.0,631.4 463.3,623.5 463.6,627.6 463.9,614.4 464.2,625.2 464.5,630.5 464.8,622.7 465.1,631.7 465.4,623.9 465.7,624.4 465.9,616.9 466.2,650.4 466.5,644.3 466.8,641.7 467.1,647.4 467.4,639.7 467.7,629.0 468.0,632.3 468.3,619.5 468.6,626.0 468.9,640.2 469.2,631.6 469.5,633.9 469.7,631.4 470.0,621.0 470.3,633.2 470.6,625.3 470.9,637.1 471.2,637.6 471.5,625.2 471.8,634.6 472.1,627.5 472.4,640.4 472.7,643.7 473.0,638.0 473.3,612.2 473.5,640.2 473.8,623.9 474.1,617.9 474.4,632.5 474.7,629.3 475.0,639.1 475.3,619.3 475.6,630.5 475.9,630.7 476.2,626.6 476.5,627.5 476.8,626.8 477.0,636.1 477.3,626.4 477.6,629.7 477.9,611.5 478.2,634.5 478.5,639.0 478.8,633.5 479.1,622.0 479.4,624.8 479.7,637.3 480.0,621.9 480.3,639.4 480.6,635.7 480.8,634.2 481.1,622.8 481.4,618.8 481.7,630.8 482.0,632.7 482.3,619.4 482.6,636.9 482.9,635.3 483.2,637.1 483.5,634.5 483.8,647.7 484.1,636.1 484.4,633.7 484.6,627.1 484.9,631.2 485.2,623.8 485.5,633.0 485.8,619.8 486.1,620.3 486.4,623.0 486.7,618.7 487.0,637.2 487.3,626.9 487.6,616.3 487.9,624.8 488.2,623.1 488.4,625.0 488.7,628.5 489.0,639.2 489.3,639.8 489.6,630.3 489.9,626.9 490.2,641.1 490.5,624.4 490.8,630.1 491.1,606.5 491.4,630.6 491.7,641.3 491.9,619.2 492.2,629.9 492.5,620.9 492.8,633.3 493.1,642.4 493.4,614.0 493.7,625.8 494.0,636.7 494.3,621.2 494.6,615.4 494.9,624.8 495.2,623.0 495.5,627.6 495.7,645.5 496.0,638.4 496.3,636.0 496.6,621.7 496.9,625.8 497.2,634.1 497.5,626.9 497.8,631.7 498.1,637.1 498.4,641.3 498.7,635.8 499.0,642.5 499.3,620.7 499.5,620.7 499.8,634.4 500.1,634.2 500.4,637.0 500.7,641.1 501.0,625.5 501.3,638.3 501.6,621.0 501.9,632.7 502.2,635.3 502.5,631.6 502.8,633.3 503.1,629.8 503.3,638.8 503.6,621.9 503.9,630.4 504.2,640.5 504.5,620.8 504.8,643.7 505.1,635.7 505.4,634.3 505.7,644.0 506.0,636.8 506.3,622.1 506.6,629.6 506.9,638.5 507.1,642.2 507.4,626.8 507.7,634.6 508.0,603.8 508.3,621.2 508.6,616.7 508.9,624.3 509.2,628.5 509.5,643.6 509.8,626.4 510.1,624.8 510.4,609.3 510.6,641.7 510.9,652.7 511.2,633.1 511.5,623.1 511.8,637.4 512.1,630.1 512.4,643.8 512.7,626.3 513.0,626.5 513.3,618.4 513.6,630.6 513.9,633.3 514.2,644.1 514.4,639.5 514.7,639.2 515.0,629.5 515.3,631.5 515.6,639.9 515.9,621.1 516.2,626.7 516.5,623.5 516.8,636.6 517.1,620.1 517.4,640.6 517.7,642.1 518.0,627.1 518.2,630.7 518.5,638.9 518.8,632.7 519.1,622.2 519.4,642.3 519.7,630.5 520.0,651.1 520.3,636.9 520.6,627.2 520.9,639.2 521.2,618.9 521.5,644.2 521.8,624.1 522.0,641.7 522.3,633.9 522.6,623.0 522.9,643.4 523.2,642.5 523.5,633.9 523.8,634.8 524.1,644.8 524.4,628.5 524.7,617.7 525.0,636.9 525.3,632.4 525.5,623.3 525.8,618.1 526.1,631.5 526.4,644.8 526.7,631.4 527.0,636.4 527.3,630.6 527.6,640.3 527.9,645.6 528.2,621.8 528.5,625.7 528.8,629.4 529.1,627.9 529.3,624.8 529.6,641.6 529.9,642.1 530.2,644.0 530.5,621.9 530.8,635.3 531.1,642.4 531.4,629.0 531.7,634.2 532.0,649.3 532.3,630.3 532.6,628.5 532.9,638.9 533.1,623.8 533.4,662.0 533.7,650.6 534.0,640.1 534.3,622.3 534.6,645.4 534.9,630.1 535.2,645.2 535.5,625.8 535.8,630.4 536.1,635.6 536.4,640.0 536.7,635.3 536.9,632.2 537.2,628.7 537.5,637.1 537.8,645.4 538.1,643.6 538.4,637.1 538.7,646.0 539.0,630.2 539.3,631.5 539.6,627.4 539.9,634.0 540.2,627.0 540.4,645.0 540.7,647.4 541.0,633.8 541.3,626.1 541.6,634.6 541.9,622.2 542.2,639.4 542.5,625.8 542.8,639.8 543.1,628.5 543.4,628.1 543.7,617.9 544.0,634.7 544.2,622.7 544.5,631.3 544.8,624.3 545.1,640.5 545.4,630.0 545.7,647.4 546.0,634.1 546.3,634.6 546.6,638.2 546.9,630.0 547.2,635.0 547.5,637.9 547.8,641.0 548.0,632.7 548.3,623.7 548.6,641.9 548.9,625.1 549.2,644.6 549.5,622.8 549.8,635.2 550.1,639.0 550.4,625.8 550.7,636.3 551.0,645.1 551.3,626.2 551.6,641.4 551.8,637.8 552.1,626.3 552.4,632.5 552.7,628.6 553.0,622.6 553.3,641.5 553.6,629.6 553.9,608.2 554.2,622.8 554.5,625.0 554.8,631.5 555.1,641.7 555.4,619.4 555.6,634.4 555.9,635.4 556.2,636.2 556.5,646.6 556.8,643.0 557.1,641.3 557.4,645.4 557.7,634.8 558.0,631.1 558.3,606.0 558.6,642.3 558.9,644.2 559.1,639.6 559.4,627.5 559.7,645.1 560.0,637.5 560.3,626.9 560.6,645.2 560.9,639.8 561.2,626.2 561.5,632.3 561.8,639.5 562.1,636.0 562.4,629.7 562.7,641.4 562.9,645.7 563.2,637.4 563.5,633.4 563.8,624.0 564.1,633.5 564.4,630.7 564.7,626.4 565.0,638.2 565.3,625.3 565.6,628.3 565.9,639.4 566.2,632.4 566.5,611.3 566.7,601.4 567.0,617.3 567.3,629.0 567.6,633.7 567.9,644.6 568.2,624.9 568.5,622.8 568.8,657.2 569.1,623.9 569.4,643.1 569.7,639.4 570.0,649.9 570.3,641.2 570.5,620.1 570.8,647.6 571.1,632.4 571.4,651.7 571.7,636.0 572.0,642.6 572.3,623.2 572.6,628.7 572.9,640.4 573.2,663.2 573.5,646.8 573.8,624.6 574.0,631.7 574.3,646.2 574.6,636.8 574.9,633.1 575.2,654.8 575.5,646.0 575.8,631.2 576.1,624.1 576.4,636.1 576.7,630.3 577.0,641.8 577.3,627.3 577.6,623.5 577.8,631.7 578.1,635.2 578.4,630.7 578.7,625.4 579.0,639.3 579.3,626.8 579.6,647.1 579.9,640.4 580.2,628.3 580.5,644.3 580.8,646.3 581.1,623.5 581.4,630.4 581.6,650.2 581.9,633.0 582.2,630.9 582.5,646.0 582.8,644.0 583.1,638.5 583.4,642.8 583.7,636.9 584.0,640.7 584.3,632.5 584.6,644.2 584.9,629.4 585.2,650.4 585.4,631.8 585.7,639.5 586.0,647.3 586.3,644.0 586.6,630.7 586.9,624.2 587.2,647.2 587.5,643.4 587.8,642.3 588.1,644.9 588.4,643.4 588.7,639.2 588.9,638.8 589.2,624.4 589.5,647.7 589.8,627.5 590.1,634.2 590.4,629.9 590.7,650.7 591.0,652.0 591.3,648.0 591.6,624.5 591.9,646.7 592.2,645.1 592.5,634.4 592.7,645.1 593.0,641.6 593.3,633.2 593.6,622.0 593.9,625.3 594.2,627.2 594.5,625.4 594.8,649.2 595.1,631.1 595.4,640.5 595.7,641.7 596.0,628.4 596.3,633.6 596.5,629.4 596.8,624.3 597.1,630.0 597.4,628.6 597.7,647.4 598.0,646.3 598.3,636.6 598.6,634.6 598.9,630.0 599.2,641.8 599.5,617.8 599.8,643.9 600.1,627.2 600.3,637.5 600.6,639.1 600.9,634.7 601.2,659.3 601.5,636.6 601.8,625.6 602.1,625.7 602.4,647.9 602.7,627.8 603.0,633.2 603.3,658.8 603.6,643.1 603.8,628.4 604.1,647.4 604.4,652.0 604.7,646.1 605.0,632.4 605.3,626.5 605.6,628.1 605.9,635.7 606.2,643.9 606.5,662.8 606.8,634.2 607.1,646.1 607.4,650.2 607.6,625.8 607.9,632.4 608.2,648.4 608.5,643.9 608.8,648.3 609.1,619.3 609.4,628.6 609.7,634.0 610.0,628.2 610.3,628.3 610.6,646.5 610.9,632.8 611.2,646.3 611.4,651.4 611.7,626.5 612.0,645.4 612.3,618.4 612.6,637.0 612.9,636.5 613.2,633.0 613.5,615.3 613.8,645.3 614.1,639.1 614.4,641.0 614.7,630.6 615.0,633.4 615.2,634.5 615.5,641.8 615.8,625.1 616.1,634.5 616.4,647.0 616.7,631.1 617.0,641.6 617.3,631.2 617.6,647.2 617.9,630.0 618.2,637.5 618.5,644.4 618.8,643.5 619.0,630.0 619.3,642.5 619.6,630.7 619.9,620.5 620.2,641.6 620.5,635.2 620.8,635.3 621.1,631.1 621.4,632.0 621.7,649.4 622.0,639.0 622.3,646.6 622.5,630.6 622.8,629.7 623.1,645.4 623.4,626.6 623.7,624.7 624.0,622.3 624.3,637.1 624.6,630.8 624.9,631.3 625.2,641.3 625.5,643.5 625.8,634.9 626.1,624.8 626.3,648.9 626.6,641.3 626.9,646.7 627.2,626.6 627.5,635.1 627.8,631.9 628.1,637.7 628.4,628.7 628.7,647.3 629.0,638.5 629.3,646.5 629.6,637.5 629.9,646.9 630.1,640.7 630.4,635.0 630.7,638.2 631.0,640.1 631.3,631.3 631.6,635.3 631.9,639.7 632.2,635.9 632.5,635.6 632.8,641.4 633.1,627.0 633.4,629.9 633.7,638.7 633.9,633.4 634.2,636.2 634.5,618.7 634.8,640.9 635.1,638.1 635.4,633.0 635.7,646.4 636.0,626.7 636.3,633.7 636.6,656.4 636.9,626.2 637.2,633.5 637.4,627.7 637.7,631.4 638.0,628.8 638.3,633.1 638.6,646.9 638.9,628.2 639.2,638.6 639.5,625.2 639.8,632.6 640.1,646.5 640.4,642.7 640.7,643.5 641.0,641.5 641.2,645.4 641.5,627.6 641.8,637.2 642.1,639.8 642.4,642.0 642.7,640.0 643.0,630.1 643.3,643.9 643.6,627.9 643.9,649.2 644.2,648.1 644.5,632.1 644.8,644.9 645.0,628.4 645.3,640.9 645.6,646.6 645.9,647.7 646.2,635.1 646.5,638.7 646.8,627.8 647.1,642.5 647.4,630.0 647.7,630.9 648.0,642.8 648.3,640.1 648.6,625.7 648.8,637.8 649.1,643.0 649.4,628.2 649.7,631.9 650.0,631.4 650.3,645.7 650.6,657.7 650.9,642.5 651.2,631.9 651.5,630.6 651.8,626.4 652.1,644.0 652.3,634.1 652.6,646.9 652.9,626.6 653.2,632.3 653.5,638.6 653.8,639.3 654.1,629.5 654.4,640.7 654.7,644.4 655.0,650.6 655.3,645.2 655.6,631.8 655.9,628.5 656.1,613.4 656.4,643.2 656.7,643.2 657.0,634.6 657.3,644.4 657.6,627.0 657.9,634.1 658.2,633.6 658.5,643.9 658.8,646.5 659.1,639.0 659.4,629.0 659.7,641.9 659.9,630.5 660.2,649.0 660.5,629.5 660.8,628.4 661.1,649.1 661.4,635.4 661.7,637.4 662.0,628.9 662.3,640.7 662.6,640.7 662.9,643.8 663.2,648.6 663.5,639.6 663.7,637.0 664.0,635.4 664.3,633.4 664.6,630.1 664.9,640.4 665.2,629.3 665.5,634.8 665.8,627.4 666.1,645.9 666.4,640.5 666.7,642.5 667.0,645.5 667.2,642.0 667.5,631.7 667.8,639.5 668.1,633.0 668.4,631.7 668.7,636.9 669.0,636.9 669.3,646.4 669.6,626.5 669.9,636.4 670.2,646.4 670.5,631.0 670.8,634.9 671.0,662.9 671.3,630.5 671.6,635.0 671.9,638.8 672.2,616.6 672.5,630.2 672.8,634.6 673.1,625.8 673.4,636.3 673.7,631.8 674.0,626.9 674.3,631.9 674.6,626.0 674.8,641.2 675.1,648.9 675.4,646.8 675.7,634.6 676.0,632.4 676.3,640.2 676.6,644.5 676.9,630.6 677.2,632.0 677.5,637.6 677.8,626.8 678.1,643.7 678.4,632.4 678.6,646.3 678.9,621.9 679.2,648.4 679.5,646.0 679.8,634.4 680.1,629.1 680.4,628.3 680.7,633.2 681.0,638.4 681.3,639.8 681.6,633.6 681.9,638.5 682.2,644.6 682.4,633.1 682.7,629.8 683.0,643.4 683.3,635.9 683.6,642.6 683.9,650.7 684.2,645.9 684.5,637.1 684.8,640.9 685.1,639.6 685.4,631.4 685.7,644.1 685.9,637.6 686.2,638.2 686.5,638.4 686.8,646.9 687.1,628.8 687.4,636.0 687.7,638.1 688.0,636.3 688.3,633.5 688.6,631.3 688.9,645.6 689.2,626.7 689.5,626.9 689.7,649.8 690.0,631.4 690.3,639.6 690.6,636.2 690.9,639.3 691.2,631.9 691.5,614.1 691.8,631.3 692.1,645.6 692.4,628.9 692.7,630.9 693.0,630.9 693.3,650.3 693.5,637.3 693.8,646.4 694.1,637.9 694.4,627.0 694.7,630.0 695.0,637.7 695.3,656.8 695.6,640.1"/>
<polyline stroke="#00FF00" points="117.1,153.8 118.1,217.3 119.1,265.2 120.1,288.2 121.1,343.1 122.1,357.4 123.1,376.3 124.1,384.3 125.0,404.5 126.0,421.4 127.0,446.3 128.0,447.3 129.0,464.7 130.0,460.7 131.0,477.9 132.0,469.8 133.0,477.3 134.0,488.8 135.0,486.9 136.0,491.7 137.0,495.7 138.0,499.3 139.0,497.6 139.9,504.1 140.9,509.1 141.9,506.7 142.9,515.1 143.9,505.4 144.9,509.6 145.9,528.8 146.9,519.8 147.9,520.4 148.9,521.6 149.9,519.6 150.9,516.0 151.9,516.4 152.9,538.4 153.9,522.6 154.8,540.5 155.8,523.9 156.8,528.7 157.8,537.4 158.8,536.6 159.8,537.6 160.8,528.3 161.8,540.1 162.8,540.1 163.8,536.0 164.8,529.4 165.8,543.7 166.8,539.3 167.8,546.3 168.8,536.4 169.7,550.5 170.7,541.9 171.7,542.5 172.7,548.1 173.7,539.6 174.7,536.0 175.7,548.1 176.7,546.9 177.7,548.6 178.7,543.4 179.7,546.5 180.7,551.7 181.7,553.4 182.7,558.4 183.7,556.3 184.6,555.4 185.6,546.1 186.6,551.8 187.6,570.9 188.6,561.9 189.6,552.1 190.6,553.5 191.6,571.9 192.6,562.6 193.6,553.2 194.6,567.8 195.6,566.8 196.6,564.5 197.6,572.1 198.6,560.1 199.5,566.2 200.5,566.9 201.5,572.9 202.5,563.2 203.5,572.4 204.5,575.9 205.5,572.8 206.5,580.5 207.5,576.6 208.5,559.8 209.5,579.3 210.5,580.6 211.5,575.7 212.5,574.5 213.5,574.5 214.4,576.2 215.4,588.5 216.4,581.8 217.4,593.0 218.4,575.9 219.4,578.2 220.4,576.3 221.4,591.4 222.4,594.9 223.4,582.7 224.4,589.8 225.4,591.6 226.4,590.0 227.4,594.9 228.4,597.3 229.4,584.4 230.3,585.3 231.3,583.1 232.3,586.4 233.3,588.2 234.3,586.6 235.3,591.7 236.3,589.7 237.3,591.9 238.3,605.3 239.3,589.6 240.3,581.9 241.3,583.5 242.3,594.7 243.3,591.7 244.3,593.0 245.2,584.1 246.2,585.0 247.2,600.3 248.2,600.8 249.2,599.4 250.2,600.7 251.2,588.1 252.2,609.7 253.2,605.2 254.2,607.5 255.2,603.4 256.2,595.9 257.2,606.8 258.2,595.7 259.2,590.8 260.1,600.4 261.1,594.4 262.1,603.6 263.1,600.4 264.1,604.7 265.1,596.6 266.1,601.7 267.1,600.1 268.1,599.0 269.1,598.5 270.1,611.1 271.1,603.9 272.1,610.3 273.1,608.7 274.1,606.6 275.0,603.3 276.0,607.4 277.0,608.9 278.0,599.8 279.0,605.3 280.0,621.4 281.0,606.2 282.0,611.7 283.0,605.1 284.0,604.7 285.0,599.4 286.0,612.1 287.0,604.8 288.0,611.5 289.0,614.8 289.9,620.4 290.9,609.4 291.9,602.5 292.9,612.9 293.9,605.3 294.9,611.5 295.9,607.2 296.9,613.4 297.9,609.3 298.9,619.0 299.9,608.6 300.9,601.8 301.9,606.8 302.9,617.0 303.9,625.4 304.8,612.9 305.8,621.2 306.8,615.3 307.8,608.6 308.8,628.8 309.8,616.8 310.8,616.4 311.8,611.1 312.8,613.3 313.8,605.6 314.8,613.5 315.8,612.1 316.8,628.9 317.8,616.9 318.8,619.0 319.7,617.6 320.7,611.1 321.7,625.2 322.7,633.6 323.7,606.9 324.7,619.3 325.7,620.9 326.7,609.9 327.7,613.9 328.7,617.9 329.7,617.3 330.7,614.9 331.7,625.2 332.7,619.1 333.7,607.3 334.6,616.6 335.6,618.4 336.6,608.2 337.6,619.1 338.6,610.7 339.6,618.9 340.6,622.4 341.6,618.8 342.6,619.6 343.6,630.1 344.6,609.1 345.6,618.7 346.6,608.7 347.6,626.8 348.6,624.8 349.5,630.3 350.5,623.8 351.5,619.0 352.5,610.3 353.5,626.0 354.5,625.4 355.5,617.5 356.5,620.6 357.5,627.9 358.5,626.9 359.5,628.3 360.5,616.9 361.5,628.0 362.5,626.7 363.5,617.6 364.4,628.6 365.4,618.7 366.4,634.0 367.4,629.4 368.4,617.0 369.4,622.0 370.4,631.5 371.4,633.2 372.4,636.3 373.4,624.2 374.4,628.0 375.4,624.7 376.4,627.2 377.4,609.7 378.4,619.3 379.3,636.6 380.3,625.7 381.3,635.0 382.3,626.2 383.3,629.5 384.3,626.3 385.3,630.1 386.3,641.0 387.3,624.5 388.3,639.7 389.3,634.2 390.3,633.2 391.3,627.7 392.3,636.4 393.3,630.0 394.2,628.7 395.2,617.3 396.2,633.5 397.2,627.8 398.2,625.5 399.2,630.8 400.2,628.5 401.2,623.8 402.2,634.0 403.2,647.9 404.2,631.9 405.2,628.3 406.2,627.1 407.2,627.2 408.2,623.1 409.1,630.0 410.1,634.2 411.1,637.6 412.1,638.8 413.1,624.8 414.1,634.6 415.1,636.0 416.1,621.7 417.1,639.3 418.1,625.8 419.1,637.5 420.1,634.6 421.1,634.6 422.1,629.1 423.1,633.8 424.1,625.8 425.0,635.5 426.0,620.1 427.0,634.2 428.0,643.2 429.0,638.0 430.0,637.9 431.0,630.2 432.0,640.7 433.0,624.9 434.0,637.9 435.0,635.4 436.0,625.6 437.0,645.7 438.0,619.1 439.0,638.0 439.9,644.6 440.9,623.1 441.9,633.9 442.9,643.9 443.9,628.7 444.9,622.5 445.9,622.6 446.9,629.0 447.9,639.1 448.9,636.3 449.9,627.7 450.9,630.1 451.9,634.8 452.9,623.8 453.9,641.2 454.8,622.8 455.8,640.1 456.8,636.4 457.8,633.8 458.8,628.2 459.8,625.6 460.8,643.3 461.8,639.3 462.8,637.9 463.8,634.4 464.8,638.6 465.8,640.6 466.8,623.9 467.8,629.0 468.8,633.4 469.7,627.8 470.7,635.1 471.7,643.6 472.7,645.7 473.7,629.9 474.7,634.3 475.7,634.4 476.7,640.3 477.7,633.0 478.7,632.4 479.7,625.1 480.7,625.8 481.7,638.0 482.7,622.3 483.7,628.1 484.6,624.3 485.6,635.1 486.6,627.5 487.6,644.3 488.6,626.5 489.6,638.9 490.6,631.5 491.6,638.6 492.6,634.2 493.6,633.8 494.6,642.7 495.6,633.4 496.6,628.1 497.6,633.8 498.6,627.0 499.5,619.6 500.5,633.6 501.5,625.6 502.5,633.3 503.5,641.9 504.5,629.4 505.5,642.4 506.5,634.3 507.5,620.0 508.5,639.2 509.5,642.0 510.5,637.1 511.5,631.9 512.5,629.3 513.5,638.6 514.4,638.9 515.4,631.0 516.4,635.4 517.4,628.3 518.4,640.2 519.4,625.9 520.4,633.2 521.4,635.4 522.4,645.5 523.4,637.2 524.4,635.8 525.4,627.8 526.4,634.1 527.4,641.7 528.4,644.2 529.3,629.6 530.3,642.8 531.3,624.1 532.3,633.7 533.3,638.7 534.3,640.7 535.3,626.5 536.3,636.4 537.3,634.4 538.3,648.5 539.3,634.6 540.3,642.2 541.3,650.3 542.3,637.2 543.3,636.5 544.2,643.7 545.2,617.6 546.2,643.3 547.2,641.6 548.2,634.1 549.2,633.8 550.2,634.1 551.2,637.7 552.2,626.0 553.2,641.2 554.2,648.0 555.2,642.8 556.2,637.1 557.2,635.6 558.2,623.2 559.1,636.7 560.1,639.1 561.1,639.7 562.1,641.6 563.1,631.6 564.1,644.0 565.1,627.4 566.1,642.4 567.1,640.7 568.1,636.1 569.1,647.0 570.1,635.6 571.1,636.6 572.1,627.8 573.1,631.8 574.0,652.2 575.0,634.2 576.0,643.1 577.0,642.9 578.0,642.1 579.0,623.7 580.0,639.5 581.0,636.7 582.0,630.9 583.0,624.9 584.0,639.3 585.0,635.9 586.0,635.2 587.0,636.3 588.0,638.3 588.9,644.3 589.9,640.3 590.9,642.2 591.9,643.5 592.9,640.6 593.9,637.5 594.9,641.5 595.9,639.7 596.9,631.4 597.9,632.4 598.9,643.5 599.9,649.0 600.9,620.9 601.9,638.6 602.9,625.9 603.8,637.7 604.8,625.9 605.8,634.6 606.8,637.9 607.8,641.0 608.8,638.5 609.8,643.3 610.8,635.6 611.8,637.8 612.8,634.1 613.8,634.0 614.8,644.6 615.8,635.6 616.8,637.3 617.8,630.7 618.8,627.0 619.7,640.2 620.7,651.3 621.7,638.0 622.7,638.1 623.7,644.1 624.7,635.1 625.7,639.3 626.7,633.5 627.7,645.9 628.7,636.1 629.7,639.1 630.7,639.2 631.7,631.6 632.7,641.8 633.7,640.5 634.6,633.0 635.6,647.7 636.6,633.5 637.6,642.5 638.6,652.7 639.6,628.9 640.6,627.4 641.6,637.4 642.6,644.5 643.6,649.4 644.6,636.0 645.6,628.3 646.6,647.8 647.6,638.4 648.6,628.0 649.5,633.0 650.5,639.3 651.5,624.9 652.5,646.4 653.5,634.8 654.5,631.4 655.5,646.9 656.5,641.3 657.5,640.8 658.5,620.3 659.5,638.6 660.5,638.8 661.5,641.7 662.5,621.5 663.5,625.1 664.4,643.7 665.4,642.9 666.4,634.2 667.4,636.7 668.4,635.6 669.4,642.7 670.4,649.7 671.4,637.0 672.4,644.1 673.4,621.1 674.4,636.7 675.4,636.1 676.4,635.1 677.4,641.9 678.4,636.5 679.3,645.0 680.3,637.8 681.3,634.7 682.3,637.6 683.3,655.9 684.3,634.1 685.3,642.9 686.3,631.6 687.3,637.3 688.3,637.9 689.3,634.7 690.3,642.0 691.3,637.5 692.3,640.1 693.3,634.2 694.2,631.9 695.2,643.1 696.2,640.6 697.2,643.0 698.2,626.1 699.2,642.8 700.2,638.3 701.2,639.3 702.2,643.7 703.2,634.2 704.2,639.6 705.2,631.0 706.2,643.7 707.2,635.6 708.2,623.5 709.1,632.0 710.1,637.8 711.1,631.9 712.1,645.5 713.1,634.6 714.1,635.3 715.1,634.4 716.1,634.3 717.1,633.1 718.1,641.6 719.1,641.1 720.1,644.3 721.1,634.5 722.1,649.3 723.1,638.5 724.0,643.1 725.0,636.5 726.0,623.5 727.0,641.2 728.0,630.8 729.0,628.9 730.0,645.0 731.0,638.8 732.0,636.2 733.0,643.1 734.0,640.6 735.0,639.2 736.0,636.8 737.0,641.2 738.0,630.5 738.9,634.2 739.9,638.3 740.9,635.9 741.9,648.6 742.9,647.3 743.9,646.3 744.9,636.5 745.9,628.4 746.9,640.9 747.9,645.1 748.9,643.8 749.9,636.5 750.9,646.0 751.9,643.4 752.9,633.6 753.8,630.1 754.8,637.1 755.8,638.0 756.8,639.9 757.8,634.3 758.8,656.2 759.8,636.6 760.8,636.6 761.8,640.0 762.8,640.1 763.8,635.3 764.8,640.9 765.8,633.9 766.8,642.9 767.8,635.4 768.7,632.2 769.7,644.3 770.7,631.6 771.7,635.4 772.7,636.1 773.7,629.6 774.7,635.1 775.7,643.4 776.7,633.8 777.7,630.7 778.7,640.0 779.7,639.4 780.7,639.5 781.7,640.8 782.7,642.9 783.6,633.1 784.6,631.0 785.6,646.0 786.6,638.7 787.6,639.7 788.6,633.2 789.6,631.1 790.6,635.2 791.6,630.4 792.6,632.0 793.6,633.6 794.6,634.5 795.6,631.0 796.6,641.0 797.6,644.7 798.5,632.3 799.5,631.8 800.5,627.4 801.5,638.2 802.5,644.9 803.5,635.2 804.5,628.7 805.5,641.4 806.5,638.6 807.5,641.1 808.5,647.1 809.5,630.2 810.5,640.4 811.5,627.6 812.5,640.3 813.5,648.6 814.4,643.6 815.4,643.8 816.4,642.2 817.4,639.2"/>
<polyline stroke="#0072BD" points="117.1,153.8 118.1,176.2 119.1,233.1 120.1,253.4 121.1,271.3 122.1,289.1 123.1,311.9 124.1,328.7 125.0,339.1 126.0,357.5 127.0,371.9 128.0,382.0 129.0,407.8 130.0,408.8 131.0,421.9 132.0,421.3 133.0,430.0 134.0,426.0 135.0,436.6 136.0,445.3 137.0,460.5 138.0,459.2 139.0,483.5 139.9,467.8 140.9,471.8 141.9,479.5 142.9,479.2 143.9,495.6 144.9,492.1 145.9,497.2 146.9,489.9 147.9,492.5 148.9,488.7 149.9,509.1 150.9,511.5 151.9,506.4 152.9,516.7 153.9,520.2 154.8,514.3 155.8,520.5 156.8,526.3 157.8,517.1 158.8,526.8 159.8,536.9 160.8,530.5 161.8,530.5 162.8,536.4 163.8,526.3 164.8,532.4 165.8,530.9 166.8,530.8 167.8,539.4 168.8,540.1 169.7,538.9 170.7,542.9 171.7,531.9 172.7,548.0 173.7,551.9 174.7,540.3 175.7,546.2 176.7,555.1 177.7,541.9 178.7,542.6 179.7,554.1 180.7,557.2 181.7,545.0 182.7,546.6 183.7,547.0 184.6,555.1 185.6,548.3 186.6,543.9 187.6,550.8 188.6,552.1 189.6,549.9 190.6,555.0 191.6,559.0 192.6,557.6 193.6,554.5 194.6,559.6 195.6,558.0 196.6,565.9 197.6,564.8 198.6,574.7 199.5,560.0 200.5,564.3 201.5,574.2 202.5,565.3 203.5,574.2 204.5,566.5 205.5,558.0 206.5,570.4 207.5,576.8 208.5,575.8 209.5,571.9 210.5,577.0 211.5,570.6 212.5,587.9 213.5,567.2 214.4,577.9 215.4,577.8 216.4,569.7 217.4,572.5 218.4,591.1 219.4,589.1 220.4,574.9 221.4,583.9 222.4,587.8 223.4,577.3 224.4,583.9 225.4,581.0 226.4,589.6 227.4,587.8 228.4,586.6 229.4,584.1 230.3,579.8 231.3,597.5 232.3,592.8 233.3,593.0 234.3,587.9 235.3,593.9 236.3,589.2 237.3,582.9 238.3,589.8 239.3,583.2 240.3,591.8 241.3,603.9 242.3,592.9 243.3,591.2 244.3,597.9 245.2,595.1 246.2,586.3 247.2,592.1 248.2,602.7 249.2,604.4 250.2,592.3 251.2,593.3 252.2,605.4 253.2,599.4 254.2,598.1 255.2,592.7 256.2,594.2 257.2,584.7 258.2,605.0 259.2,612.7 260.1,602.1 261.1,595.3 262.1,609.8 263.1,609.8 264.1,601.8 265.1,603.6 266.1,595.7 267.1,607.7 268.1,587.7 269.1,599.5 270.1,599.8 271.1,614.7 272.1,603.3 273.1,594.7 274.1,608.8 275.0,595.6 276.0,602.4 277.0,599.8 278.0,605.3 279.0,601.6 280.0,620.2 281.0,609.8 282.0,612.1 283.0,608.7 284.0,612.2 285.0,617.9 286.0,607.2 287.0,608.0 288.0,610.4 289.0,604.2 289.9,613.0 290.9,604.6 291.9,605.9 292.9,617.0 293.9,605.8 294.9,613.3 295.9,609.2 296.9,614.4 297.9,603.2 298.9,608.9 299.9,629.7 300.9,618.6 301.9,620.9 302.9,614.5 303.9,608.3 304.8,612.5 305.8,624.7 306.8,627.4 307.8,613.5 308.8,615.6 309.8,608.4 310.8,610.3 311.8,612.6 312.8,605.1 313.8,612.3 314.8,610.0 315.8,618.0 316.8,612.5 317.8,604.1 318.8,623.0 319.7,624.0 320.7,619.0 321.7,608.8 322.7,616.0 323.7,621.4 324.7,612.8 325.7,617.3 326.7,617.2 327.7,626.1 328.7,629.9 329.7,614.8 330.7,621.6 331.7,613.4 332.7,604.9 333.7,613.0 334.6,626.7 335.6,617.1 336.6,623.0 337.6,617.2 338.6,613.5 339.6,621.7 340.6,616.0 341.6,619.0 342.6,616.9 343.6,614.7 344.6,620.9 345.6,613.1 346.6,612.2 347.6,626.8 348.6,622.2 349.5,621.5 350.5,634.3 351.5,627.7 352.5,613.4 353.5,618.1 354.5,621.7 355.5,620.9 356.5,616.1 357.5,630.5 358.5,612.9 359.5,626.8 360.5,625.7 361.5,630.2 362.5,621.4 363.5,629.3 364.4,624.4 365.4,630.0 366.4,616.5 367.4,615.7 368.4,629.5 369.4,633.6 370.4,633.3 371.4,619.8 372.4,633.8 373.4,631.2 374.4,626.0 375.4,615.8 376.4,625.3 377.4,627.6 378.4,621.4 379.3,637.3 380.3,633.4 381.3,619.9 382.3,619.1 383.3,622.8 384.3,624.0 385.3,628.7 386.3,628.4 387.3,615.3 388.3,633.6 389.3,618.8 390.3,627.6 391.3,637.7 392.3,623.8 393.3,632.9 394.2,625.0 395.2,625.4 396.2,612.6 397.2,631.9 398.2,641.2 399.2,625.5 400.2,624.0 401.2,630.0 402.2,633.4 403.2,625.3 404.2,624.1 405.2,631.5 406.2,623.3 407.2,628.6 408.2,629.5 409.1,637.0 410.1,633.5 411.1,624.9 412.1,621.1 413.1,621.9 414.1,630.1 415.1,630.6 416.1,635.4 417.1,635.0 418.1,632.3 419.1,623.6 420.1,622.2 421.1,627.8 422.1,626.5 423.1,636.5 424.1,631.6 425.0,625.8 426.0,630.1 427.0,626.8 428.0,639.3 429.0,620.7 430.0,632.9 431.0,635.1 432.0,630.3 433.0,655.6 434.0,633.4 435.0,618.0 436.0,635.1 437.0,625.1 438.0,642.6 439.0,640.9 439.9,642.2 440.9,622.6 441.9,644.3 442.9,629.9 443.9,637.4 444.9,627.6 445.9,639.2 446.9,636.6 447.9,629.7 448.9,643.8 449.9,645.8 450.9,619.0 451.9,631.9 452.9,629.2 453.9,632.5 454.8,630.2 455.8,632.6 456.8,630.0 457.8,641.0 458.8,650.1 459.8,637.3 460.8,622.6 461.8,637.3 462.8,645.2 463.8,622.9 464.8,626.2 465.8,637.1 466.8,628.1 467.8,629.7 468.8,641.6 469.7,625.2 470.7,629.0 471.7,630.3 472.7,626.0 473.7,646.3 474.7,634.2 475.7,623.2 476.7,625.0 477.7,643.4 478.7,629.4 479.7,638.0 480.7,631.2 481.7,638.8 482.7,624.6 483.7,619.7 484.6,626.6 485.6,626.5 486.6,632.3 487.6,634.9 488.6,623.7 489.6,628.0 490.6,631.7 491.6,637.9 492.6,641.2 493.6,628.0 494.6,628.1 495.6,633.7 496.6,633.2 497.6,643.5 498.6,638.7 499.5,640.5 500.5,630.4 501.5,635.4 502.5,634.1 503.5,639.0 504.5,633.6 505.5,645.2 506.5,622.6 507.5,634.0 508.5,631.0 509.5,631.4 510.5,640.0 511.5,625.2 512.5,633.2 513.5,635.4 514.4,627.6 515.4,640.5 516.4,630.1 517.4,622.7 518.4,637.7 519.4,631.5 520.4,643.4 521.4,633.0 522.4,632.7 523.4,645.5 524.4,623.9 525.4,621.1 526.4,647.3 527.4,631.9 528.4,637.6 529.3,636.5 530.3,632.1 531.3,634.5 532.3,636.3 533.3,633.1 534.3,637.6 535.3,633.6 536.3,639.6 537.3,629.2 538.3,621.8 539.3,635.0 540.3,637.2 541.3,626.2 542.3,648.4 543.3,636.5 544.2,642.9 545.2,639.1 546.2,642.5 547.2,637.4 548.2,627.4 549.2,641.2 550.2,637.0 551.2,628.1 552.2,632.2 553.2,630.7 554.2,636.5 555.2,639.2 556.2,638.8 557.2,638.4 558.2,644.6 559.1,651.6 560.1,639.5 561.1,634.5 562.1,639.8 563.1,628.8 564.1,628.4 565.1,635.6 566.1,638.4 567.1,633.3 568.1,639.7 569.1,637.7 570.1,641.9 571.1,640.7 572.1,632.5 573.1,639.1 574.0,633.1 575.0,636.4 576.0,636.0 577.0,634.3 578.0,651.1 579.0,639.4 580.0,634.6 581.0,626.9 582.0,633.1 583.0,619.7 584.0,627.9 585.0,635.6 586.0,645.1 587.0,638.6 588.0,638.1 588.9,636.1 589.9,634.2 590.9,645.5 591.9,633.4 592.9,638.7 593.9,641.3 594.9,645.4 595.9,635.5 596.9,640.4 597.9,651.9 598.9,636.6 599.9,638.4 600.9,648.1 601.9,632.9 602.9,639.0 603.8,634.6 604.8,645.5 605.8,640.8 606.8,634.8 607.8,632.9 608.8,642.0 609.8,654.9 610.8,636.0 611.8,638.9 612.8,628.2 613.8,644.3 614.8,634.4 615.8,647.3 616.8,635.6 617.8,640.0 618.8,636.1 619.7,638.1 620.7,638.8 621.7,627.2 622.7,629.8 623.7,637.6 624.7,643.8 625.7,643.1 626.7,630.6 627.7,637.4 628.7,642.5 629.7,642.2 630.7,628.6 631.7,636.9 632.7,643.6 633.7,627.7 634.6,635.2 635.6,647.0 636.6,646.1 637.6,635.7 638.6,642.7 639.6,640.7 640.6,625.7 641.6,624.7 642.6,625.7 643.6,634.6 644.6,635.9 645.6,645.2 646.6,645.5 647.6,637.0 648.6,636.6 649.5,631.3 650.5,632.1 651.5,634.4 652.5,633.5 653.5,635.9 654.5,628.8 655.5,644.9 656.5,624.3 657.5,633.6 658.5,646.5 659.5,635.7 660.5,626.1 661.5,641.6 662.5,634.0 663.5,638.0 664.4,627.7 665.4,636.0 666.4,641.7 667.4,634.5 668.4,634.3 669.4,636.8 670.4,641.2 671.4,646.9 672.4,637.8 673.4,648.4 674.4,643.3 675.4,637.1 676.4,630.4 677.4,631.6 678.4,649.3 679.3,631.1 680.3,651.4 681.3,636.1 682.3,636.9 683.3,631.7 684.3,636.4 685.3,630.5 686.3,641.6 687.3,638.3 688.3,631.7 689.3,641.1 690.3,641.2 691.3,637.1 692.3,647.8 693.3,639.1 694.2,644.4 695.2,627.8 696.2,629.2 697.2,632.9 698.2,623.0 699.2,636.1 700.2,640.0 701.2,635.3 702.2,635.5 703.2,639.4 704.2,635.1 705.2,645.6 706.2,644.0 707.2,635.7 708.2,645.7 709.1,630.1 710.1,634.7 711.1,641.5 712.1,630.1 713.1,635.9 714.1,626.5 715.1,638.9 716.1,641.1 717.1,634.6 718.1,644.4 719.1,630.7 720.1,635.0 721.1,659.2 722.1,637.8 723.1,636.3 724.0,645.8 725.0,639.7 726.0,639.9 727.0,650.9 728.0,635.9 729.0,638.0 730.0,642.2 731.0,640.5 732.0,637.4 733.0,630.5 734.0,634.7 735.0,639.4 736.0,640.1 737.0,641.0 738.0,631.3 738.9,635.3 739.9,641.1 740.9,628.7 741.9,632.3 742.9,643.2 743.9,634.1 744.9,636.4 745.9,635.1 746.9,632.9 747.9,639.8 748.9,641.1 749.9,644.9 750.9,635.6 751.9,638.2 752.9,649.2 753.8,637.4 754.8,635.0 755.8,636.5 756.8,639.5 757.8,632.7 758.8,641.4 759.8,647.5 760.8,627.6 761.8,647.2 762.8,635.7 763.8,625.8 764.8,640.7 765.8,629.5 766.8,639.0 767.8,639.3 768.7,649.2 769.7,633.2 770.7,641.8 771.7,632.5 772.7,643.4 773.7,636.7 774.7,636.5 775.7,628.7 776.7,632.0 777.7,645.2 778.7,631.3 779.7,638.3 780.7,642.1 781.7,640.6 782.7,631.1 783.6,648.2 784.6,640.8 785.6,644.8 786.6,637.5 787.6,639.5 788.6,645.4 789.6,639.3 790.6,639.0 791.6,640.0 792.6,637.0 793.6,630.0 794.6,637.8 795.6,637.4 796.6,633.6 797.6,639.3 798.5,639.3 799.5,641.8 800.5,642.2 801.5,642.6 802.5,636.8 803.5,653.5 804.5,641.1 805.5,636.8 806.5,631.2 807.5,628.3 808.5,648.1 809.5,642.5 810.5,638.8 811.5,649.6 812.5,642.8 813.5,637.2 814.4,639.8 815.4,650.3 816.4,633.3 817.4,644.1 818.4,637.9 819.4,649.2 820.4,638.6"/>
</g>
<g fill="none" stroke-width="2.5" stroke-linejoin="round">
<polyline stroke="#0000FF" points="991.0,743.9 1026.0,743.9 1034.7,736.5 1041.1,734.8 1047.3,732.7 1053.3,730.4 1059.0,727.7 1064.6,724.9 1069.9,721.7 1075.1,718.4 1080.1,714.8 1084.9,710.9 1089.5,706.9 1094.0,702.7 1098.3,698.3 1102.5,693.7 1106.5,689.0 1110.4,684.2 1114.2,679.2 1117.8,674.1 1121.3,668.8 1124.8,663.5 1128.1,658.2 1131.3,652.7 1134.4,647.2 1137.5,641.6 1140.4,636.0 1143.3,630.4 1146.2,624.8 1148.9,619.1 1151.6,613.4 1154.3,607.7 1156.9,601.9 1159.4,596.2 1161.8,590.4 1164.2,584.6 1166.6,578.7 1168.9,572.9 1171.2,567.0 1173.4,561.2 1175.5,555.3 1177.7,549.4 1179.8,543.4 1181.8,537.5 1183.8,531.6 1185.8,525.6 1187.8,519.6 1189.7,513.7 1191.6,507.7 1193.5,501.7 1195.4,495.7 1197.2,489.7 1199.0,483.7 1200.8,477.7 1202.6,471.7 1204.4,465.7 1206.2,459.6 1208.0,453.6 1209.7,447.6 1211.5,441.6 1213.3,435.6 1215.1,429.6 1216.8,423.6 1218.6,417.6 1220.4,411.6 1222.2,405.6 1224.1,399.7 1225.9,393.7 1227.7,387.7 1229.6,381.8 1231.5,375.8 1233.4,369.9 1235.3,363.9 1237.2,358.0 1239.1,352.0 1241.1,346.1 1243.0,340.2 1245.0,334.2 1247.0,328.3 1249.1,322.4 1251.1,316.4 1253.2,310.5 1255.3,304.5 1257.4,298.6 1259.5,292.6 1261.7,286.7 1263.9,280.7 1266.1,274.8 1268.3,268.8 1270.5,262.8 1272.8,256.8 1275.1,250.8 1277.5,244.8 1279.9,238.9 1282.4,233.0 1285.2,227.3 1288.2,221.9 1291.5,216.7 1295.1,211.8 1299.2,207.3 1303.8,203.3 1308.9,199.7 1314.6,196.9 1320.5,195.2 1326.3,195.3 1331.6,197.8 1336.4,202.0 1340.7,206.6 1344.7,211.5 1348.4,216.7 1351.8,222.0 1354.8,227.4 1357.6,233.1 1360.2,238.8 1362.7,244.7 1364.9,250.6 1367.1,256.6 1369.2,262.6 1371.2,268.6 1373.1,274.7 1375.1,280.7 1377.0,286.7 1378.8,292.8 1380.7,298.8 1382.5,304.9 1384.2,310.9 1386.0,316.9 1387.7,323.0 1389.4,329.0 1391.0,335.0 1392.7,341.1 1394.3,347.1 1395.9,353.2 1397.5,359.2 1399.0,365.3 1400.6,371.3 1402.1,377.4 1403.7,383.4 1405.2,389.4 1406.7,395.5 1408.2,401.5 1409.7,407.6 1411.2,413.6 1412.7,419.7 1414.2,425.7 1415.7,431.8 1417.3,437.8 1418.8,443.9 1420.3,449.9 1421.9,456.0 1423.4,462.0 1425.0,468.1 1426.6,474.1 1428.1,480.2 1429.8,486.2 1431.4,492.3 1433.1,498.3 1434.7,504.4 1436.4,510.4 1438.2,516.5 1439.9,522.5 1441.7,528.6 1443.5,534.6 1445.4,540.7 1447.3,546.7 1449.2,552.8 1451.2,558.8 1453.2,564.9 1455.2,570.9 1457.3,577.0 1459.4,583.0 1461.6,589.1 1463.8,595.1 1466.2,601.1 1468.6,607.0 1471.3,612.7 1474.2,618.2 1477.4,623.5 1480.9,628.5 1484.8,633.1 1489.1,637.3 1493.9,641.0 1499.2,644.1 1504.7,645.9 1510.3,645.7 1515.9,643.2 1521.2,639.3 1526.0,635.0 1530.4,630.4 1534.5,625.7 1538.4,620.7 1542.0,615.6 1545.5,610.3 1548.8,604.9 1552.2,599.5 1555.6,593.9 1559.1,588.4 1562.8,583.1 1566.7,578.1 1570.9,573.4 1575.5,569.3 1580.5,565.7 1585.9,563.0 1591.7,561.3 1597.5,561.1 1602.8,562.9 1607.6,566.7 1611.9,571.7 1615.6,577.2 1618.9,582.8 1621.8,588.5 1624.3,594.3 1626.6,600.2 1628.6,606.2 1630.4,612.3 1632.0,618.3 1633.6,624.4 1635.1,630.5 1636.7,636.6 1638.3,642.6 1640.1,648.6 1642.0,654.5 1652.0,712.0 1662.0,743.9 1744.5,743.9"/>
<polyline stroke="#D95319" points="991.0,743.9 1056.5,743.9 1064.7,738.3 1070.8,736.4 1076.6,734.3 1082.1,731.9 1087.4,729.2 1092.5,726.3 1097.4,723.2 1102.0,719.9 1106.5,716.3 1110.7,712.6 1114.8,708.6 1118.7,704.5 1122.4,700.2 1126.0,695.8 1129.4,691.2 1132.7,686.5 1135.9,681.7 1138.9,676.7 1141.8,671.7 1144.6,666.5 1147.3,661.3 1150.0,656.0 1152.5,650.7 1155.0,645.3 1157.4,639.9 1159.8,634.4 1162.1,629.0 1164.4,623.5 1166.7,618.0 1168.9,612.5 1171.1,607.0 1173.2,601.5 1175.4,596.0 1177.5,590.5 1179.5,585.0 1181.5,579.5 1183.5,574.0 1185.5,568.4 1187.5,562.9 1189.4,557.3 1191.3,551.8 1193.1,546.2 1195.0,540.7 1196.8,535.1 1198.6,529.5 1200.4,524.0 1202.2,518.4 1204.0,512.8 1205.7,507.2 1207.4,501.6 1209.1,496.0 1210.8,490.5 1212.5,484.9 1214.2,479.3 1215.8,473.7 1217.5,468.1 1219.2,462.5 1220.8,456.9 1222.4,451.3 1224.1,445.6 1225.7,440.0 1227.3,434.4 1228.9,428.8 1230.6,423.2 1232.2,417.6 1233.8,412.0 1235.5,406.4 1237.1,400.8 1238.7,395.2 1240.4,389.6 1242.0,384.0 1243.7,378.4 1245.4,372.8 1247.0,367.2 1248.7,361.6 1250.4,356.0 1252.1,350.4 1253.9,344.8 1255.6,339.3 1257.4,333.7 1259.2,328.1 1261.0,322.6 1262.8,317.0 1264.6,311.4 1266.5,305.9 1268.4,300.3 1270.3,294.8 1272.3,289.3 1274.3,283.8 1276.4,278.3 1278.5,272.8 1280.7,267.3 1283.0,261.9 1285.4,256.5 1287.9,251.1 1290.4,245.8 1293.1,240.5 1295.8,235.2 1298.7,230.0 1301.8,224.8 1305.0,219.8 1308.6,215.1 1312.8,211.0 1317.5,207.7 1322.6,205.2 1327.9,203.8 1333.3,203.5 1338.5,204.5 1343.4,206.8 1348.1,210.2 1352.3,214.5 1356.1,219.3 1359.6,224.5 1362.6,229.8 1365.3,235.2 1367.8,240.7 1370.2,246.1 1372.5,251.5 1374.8,257.0 1377.0,262.4 1379.1,267.8 1381.2,273.2 1383.2,278.6 1385.1,284.0 1387.0,289.4 1388.9,294.9 1390.8,300.3 1392.7,305.8 1394.5,311.3 1396.3,316.8 1398.1,322.4 1399.9,327.9 1401.7,333.5 1403.5,339.1 1405.3,344.7 1407.1,350.3 1408.8,356.0 1410.6,361.6 1412.3,367.3 1414.1,372.9 1415.8,378.6 1417.5,384.2 1419.3,389.9 1421.0,395.6 1422.7,401.2 1424.4,406.9 1426.1,412.6 1427.8,418.2 1429.5,423.9 1431.2,429.5 1432.9,435.1 1434.6,440.8 1436.2,446.4 1437.9,452.0 1439.6,457.6 1441.3,463.1 1443.0,468.7 1444.6,474.2 1446.3,479.7 1448.0,485.2 1449.7,490.7 1451.5,496.2 1453.2,501.6 1455.1,507.1 1456.9,512.5 1458.8,517.9 1460.8,523.4 1462.8,528.8 1465.0,534.2 1467.1,539.6 1469.4,545.1 1471.8,550.5 1474.3,555.9 1476.9,561.4 1479.6,566.8 1482.4,572.3 1485.4,577.7 1488.6,583.0 1491.9,588.1 1495.5,592.8 1499.4,597.1 1503.6,600.8 1508.1,603.8 1513.0,606.0 1518.3,607.3 1523.9,607.8 1529.6,607.5 1535.2,606.3 1540.7,604.4 1546.0,601.8 1551.1,598.6 1556.0,595.1 1560.9,591.4 1565.8,587.9 1570.9,584.7 1576.3,582.0 1581.9,580.0 1587.6,578.7 1593.2,578.3 1598.7,578.8 1603.9,580.2 1608.8,582.7 1613.3,586.1 1617.5,590.1 1621.4,594.7 1625.0,599.8 1628.2,605.2 1631.1,610.6 1633.7,616.2 1635.9,621.6 1637.9,627.0 1639.7,632.4 1641.3,637.8 1642.9,643.1 1644.4,648.6 1645.9,654.1 1647.4,659.6 1649.1,665.3 1650.9,671.1 1653.0,677.0 1664.0,717.0 1673.0,743.9 1744.5,743.9"/>
<polyline stroke="#FF0000" points="991.0,743.9 1087.2,743.9 1094.7,738.2 1100.4,736.7 1105.7,734.8 1110.9,732.6 1115.9,729.9 1120.6,727.0 1125.2,723.7 1129.5,720.2 1133.7,716.4 1137.7,712.4 1141.5,708.2 1145.2,703.9 1148.7,699.4 1152.1,694.8 1155.3,690.1 1158.4,685.4 1161.3,680.6 1164.1,675.7 1166.8,670.7 1169.4,665.8 1172.0,660.7 1174.4,655.6 1176.7,650.5 1178.9,645.4 1181.1,640.2 1183.3,634.9 1185.3,629.7 1187.4,624.4 1189.3,619.1 1191.3,613.8 1193.2,608.5 1195.1,603.2 1197.0,597.9 1198.9,592.6 1200.7,587.2 1202.5,581.9 1204.3,576.5 1206.1,571.1 1207.9,565.8 1209.6,560.4 1211.4,555.0 1213.1,549.6 1214.8,544.2 1216.5,538.8 1218.1,533.4 1219.8,528.0 1221.4,522.6 1223.1,517.2 1224.7,511.8 1226.3,506.4 1227.9,500.9 1229.5,495.5 1231.1,490.1 1232.7,484.6 1234.3,479.2 1235.8,473.8 1237.4,468.3 1239.0,462.9 1240.5,457.5 1242.1,452.0 1243.6,446.6 1245.2,441.1 1246.7,435.7 1248.3,430.3 1249.8,424.8 1251.4,419.4 1252.9,414.0 1254.5,408.5 1256.0,403.1 1257.6,397.7 1259.2,392.3 1260.8,386.9 1262.3,381.5 1263.9,376.0 1265.5,370.6 1267.1,365.3 1268.8,359.9 1270.4,354.5 1272.0,349.1 1273.7,343.7 1275.4,338.3 1277.0,333.0 1278.7,327.6 1280.4,322.3 1282.2,316.9 1283.9,311.6 1285.7,306.3 1287.4,301.0 1289.3,295.7 1291.1,290.4 1293.0,285.1 1295.0,279.8 1297.1,274.6 1299.2,269.4 1301.4,264.2 1303.8,259.0 1306.2,253.8 1308.8,248.7 1311.5,243.6 1314.3,238.5 1317.3,233.4 1320.5,228.4 1323.8,223.4 1327.3,218.6 1331.1,214.3 1335.0,210.6 1339.2,207.7 1343.6,205.9 1348.3,205.4 1353.3,206.3 1358.3,208.3 1363.1,211.4 1367.7,215.2 1371.7,219.5 1375.2,224.2 1378.5,229.0 1381.6,233.9 1384.6,238.9 1387.4,243.9 1390.0,249.0 1392.5,254.1 1394.9,259.2 1397.2,264.4 1399.4,269.6 1401.5,274.8 1403.6,280.1 1405.5,285.4 1407.4,290.7 1409.3,296.0 1411.1,301.3 1412.9,306.6 1414.6,312.0 1416.4,317.3 1418.1,322.7 1419.8,328.0 1421.6,333.4 1423.3,338.7 1425.0,344.1 1426.7,349.4 1428.4,354.8 1430.1,360.2 1431.8,365.5 1433.6,370.9 1435.3,376.2 1437.0,381.6 1438.8,387.0 1440.5,392.3 1442.3,397.7 1444.1,403.0 1445.9,408.4 1447.7,413.7 1449.5,419.0 1451.3,424.4 1453.2,429.7 1455.1,435.0 1457.0,440.3 1459.0,445.6 1461.0,450.9 1463.0,456.2 1465.0,461.5 1467.1,466.8 1469.2,472.0 1471.3,477.3 1473.5,482.5 1475.7,487.8 1478.0,493.0 1480.3,498.2 1482.6,503.4 1485.0,508.6 1487.4,513.7 1490.0,518.9 1492.6,523.9 1495.3,528.9 1498.2,533.7 1501.3,538.5 1504.5,543.0 1507.9,547.4 1511.6,551.6 1515.5,555.6 1519.7,559.3 1524.1,562.7 1528.7,565.7 1533.6,568.2 1538.7,570.3 1544.0,571.7 1549.5,572.6 1555.2,573.1 1561.0,573.3 1566.8,573.3 1572.6,573.2 1578.3,573.2 1584.0,573.5 1589.5,574.1 1594.9,575.1 1600.0,576.8 1604.8,579.2 1609.3,582.2 1613.5,585.9 1617.5,590.1 1621.2,594.7 1624.6,599.6 1627.9,604.7 1630.9,609.9 1633.7,615.1 1636.4,620.2 1638.8,625.3 1641.2,630.4 1643.3,635.4 1645.4,640.5 1647.3,645.5 1649.1,650.6 1650.9,655.7 1652.5,660.8 1654.1,666.1 1655.7,671.4 1657.2,676.8 1658.7,682.3 1660.2,687.9 1661.7,693.6 1663.3,699.5 1673.2,733.2 1682.0,743.9 1744.5,743.9"/>
<polyline stroke="#00FF00" points="991.0,743.9 1136.0,743.9 1156.0,682.0 1158.0,674.3 1160.1,666.6 1162.2,658.9 1164.3,651.2 1166.4,643.4 1168.6,635.7 1170.8,628.1 1173.0,620.4 1175.2,612.7 1177.3,605.0 1179.5,597.3 1181.7,589.5 1183.8,581.8 1185.9,574.1 1188.0,566.4 1190.1,558.7 1192.1,550.9 1194.0,543.2 1196.0,535.4 1197.8,527.7 1199.6,519.9 1201.4,512.1 1203.0,504.3 1204.7,496.5 1206.3,488.7 1207.9,480.8 1209.4,473.0 1210.9,465.2 1212.4,457.3 1213.9,449.5 1215.4,441.6 1216.8,433.8 1218.3,425.9 1219.8,418.1 1221.3,410.2 1222.8,402.4 1224.3,394.5 1225.9,386.7 1227.5,378.8 1229.2,371.0 1230.9,363.1 1232.6,355.3 1234.4,347.5 1236.2,339.7 1237.9,331.9 1239.7,324.0 1241.4,316.2 1243.1,308.4 1244.7,300.6 1246.2,292.7 1247.7,284.9 1249.2,277.0 1250.6,269.2 1252.0,261.3 1253.4,253.5 1254.8,245.6 1256.2,237.8 1257.6,229.9 1259.1,222.1 1260.5,214.3 1262.0,206.4 1263.6,198.6 1265.2,190.8 1266.8,183.0 1268.6,175.2 1270.4,167.4 1272.3,159.7 1274.3,151.9 1276.4,144.2 1278.6,136.5 1280.9,128.8 1283.4,121.1 1286.0,113.5 1288.8,105.9 1291.7,98.3 1294.8,90.7 1298.0,83.1 1301.5,75.6 1305.4,68.7 1310.2,63.3 1316.5,60.5 1324.2,61.2 1330.9,65.4 1335.7,72.3 1339.4,80.1 1342.9,87.5 1346.1,94.8 1349.0,102.1 1351.4,109.6 1353.5,117.3 1355.4,125.1 1357.1,132.9 1358.8,140.7 1360.4,148.6 1362.1,156.4 1363.7,164.3 1365.3,172.1 1366.8,180.0 1368.4,187.8 1369.9,195.7 1371.4,203.5 1372.9,211.4 1374.4,219.2 1375.8,227.1 1377.2,234.9 1378.7,242.8 1380.1,250.6 1381.4,258.5 1382.8,266.4 1384.2,274.2 1385.5,282.1 1386.8,290.0 1388.1,297.8 1389.4,305.7 1390.7,313.6 1392.0,321.5 1393.3,329.4 1394.5,337.2 1395.8,345.1 1397.0,353.0 1398.2,360.9 1399.4,368.8 1400.7,376.8 1401.9,384.7 1403.1,392.6 1404.3,400.5 1405.5,408.5 1406.7,416.4 1407.9,424.3 1409.0,432.3 1410.2,440.2 1411.4,448.1 1412.6,456.1 1413.8,464.0 1415.0,471.9 1416.2,479.8 1417.4,487.8 1418.6,495.7 1419.8,503.6 1421.0,511.5 1422.2,519.4 1423.5,527.3 1424.7,535.2 1425.9,543.0 1427.2,550.9 1428.5,558.8 1429.7,566.6 1431.0,574.5 1432.3,582.3 1433.6,590.1 1435.0,597.9 1436.4,605.7 1437.8,613.5 1439.3,621.2 1440.9,629.0 1442.6,636.8 1444.4,644.6 1446.3,652.3 1448.3,660.1 1450.6,667.9 1453.0,675.7 1455.5,683.5 1458.3,691.3 1461.3,699.1 1464.6,706.9 1468.3,714.1 1472.8,720.3 1478.3,724.8 1485.1,726.8 1491.9,725.1 1497.3,719.0 1501.5,711.1 1505.0,703.4 1507.9,695.9 1510.4,688.5 1512.7,681.0 1514.9,673.4 1516.9,665.7 1518.9,658.0 1520.9,650.2 1522.8,642.5 1524.8,634.7 1526.8,626.9 1528.9,619.2 1530.9,611.4 1533.0,603.7 1535.1,595.9 1537.2,588.2 1539.4,580.5 1541.6,572.8 1543.8,565.2 1546.1,557.5 1548.4,549.9 1550.7,542.3 1553.1,534.7 1555.5,527.2 1558.1,519.7 1560.8,512.2 1563.8,504.7 1567.2,497.2 1570.9,489.8 1575.1,482.4 1580.3,476.7 1586.8,475.2 1593.3,478.3 1598.1,484.7 1601.5,492.9 1604.2,501.4 1606.5,509.4 1608.5,517.1 1610.3,524.6 1611.9,532.1 1613.4,539.7 1614.8,547.5 1616.2,555.4 1617.6,563.4 1619.0,571.4 1620.4,579.2 1622.0,587.0 1630.8,652.0 1642.5,743.9 1744.5,743.9"/>
</g>
<path d="M991.0 743.9H1136M1642.5 743.9H1745.1" stroke="#00FF00" stroke-width="3.5" fill="none"/>
<g fill="#262626" stroke="#262626" stroke-width="0.3" font-size="28.8">
<text x="106.1" y="755.4" text-anchor="end">-0.5</text>
<text x="106.1" y="651.0" text-anchor="end">0</text>
<text x="106.1" y="546.5" text-anchor="end">0.5</text>
<text x="106.1" y="441.9" text-anchor="end">1</text>
<text x="106.1" y="337.5" text-anchor="end">1.5</text>
<text x="106.1" y="232.9" text-anchor="end">2</text>
<text x="106.1" y="128.5" text-anchor="end">2.5</text>
<text x="106.1" y="24.0" text-anchor="end">3</text>
<text x="117.1" y="783.6" text-anchor="middle">0</text>
<text x="234.0" y="783.6" text-anchor="middle">0.02</text>
<text x="350.8" y="783.6" text-anchor="middle">0.04</text>
<text x="467.7" y="783.6" text-anchor="middle">0.06</text>
<text x="584.6" y="783.6" text-anchor="middle">0.08</text>
<text x="701.4" y="783.6" text-anchor="middle">0.1</text>
<text x="818.3" y="783.6" text-anchor="middle">0.12</text>
<text x="980.2" y="756.0" text-anchor="end">0</text>
<text x="980.2" y="610.0" text-anchor="end">0.5</text>
<text x="980.2" y="463.9" text-anchor="end">1</text>
<text x="980.2" y="317.9" text-anchor="end">1.5</text>
<text x="980.2" y="171.8" text-anchor="end">2</text>
<text x="980.2" y="25.8" text-anchor="end">2.5</text>
<text x="964.5" y="791.8" text-anchor="start">10<tspan font-size="23.2" dy="-13.8">-4</tspan></text>
<text x="1215.7" y="791.8" text-anchor="start">10<tspan font-size="23.2" dy="-13.8">-3</tspan></text>
<text x="1466.8" y="791.8" text-anchor="start">10<tspan font-size="23.2" dy="-13.8">-2</tspan></text>
<text x="1718.0" y="791.8" text-anchor="start">10<tspan font-size="23.2" dy="-13.8">-1</tspan></text>
</g>
<g fill="#262626" stroke="#262626" stroke-width="0.3" font-size="32.5">
<text x="439.3" y="839.8" text-anchor="middle">Time (s)</text>
<text transform="translate(27.5 373.1) rotate(-90)" text-anchor="middle">Amplitude(μv)</text>
<text transform="translate(928.4 378.3) rotate(-90)" text-anchor="middle">Incremental Porosity(%)</text>
<text x="1220.5" y="842"><tspan font-style="italic">T</tspan><tspan font-size="26" dy="15.7">2</tspan><tspan dy="-15.7" dx="0.2"> Relation Time (s)</tspan></text>
</g>
<text font-size="39" fill="#111"><tspan x="143.6" y="80.3" font-family="'Liberation Serif','Noto Serif CJK SC',serif" font-weight="400" font-size="33">（</tspan><tspan x="181.0" y="81.5">a</tspan><tspan x="208.2" y="80.3" font-family="'Liberation Serif','Noto Serif CJK SC',serif" font-weight="400" font-size="33">）</tspan></text>
<text font-size="39" fill="#111"><tspan x="1025.0" y="93.4" font-family="'Liberation Serif','Noto Serif CJK SC',serif" font-weight="400" font-size="33">（</tspan><tspan x="1063.0" y="94.9">b</tspan><tspan x="1089.9" y="93.4" font-family="'Liberation Serif','Noto Serif CJK SC',serif" font-weight="400" font-size="33">）</tspan></text>
<rect x="496.5" y="40.3" width="295.8" height="144.4" fill="#fff" stroke="#303030" stroke-width="1.3"/>
<line x1="501.0" y1="60.0" x2="548.0" y2="60.0" stroke="#EDB120" stroke-width="1.25"/>
<text x="551.4" y="71.2" font-size="27.6" fill="#000" stroke="#000" stroke-width="0.35">TE=600μs,NE=200</text>
<line x1="501.0" y1="95.0" x2="548.0" y2="95.0" stroke="#FF0000" stroke-width="1.25"/>
<text x="551.4" y="106.2" font-size="27.6" fill="#000" stroke="#000" stroke-width="0.35">TE=900μs,NE=100</text>
<line x1="501.0" y1="130.0" x2="548.0" y2="130.0" stroke="#00FF00" stroke-width="1.25"/>
<text x="551.4" y="141.2" font-size="27.6" fill="#000" stroke="#000" stroke-width="0.35">TE=200μs,NE=600</text>
<line x1="501.0" y1="165.3" x2="548.0" y2="165.3" stroke="#0072BD" stroke-width="1.25"/>
<text x="551.4" y="176.5" font-size="27.6" fill="#000" stroke="#000" stroke-width="0.35">TE=400μs,NE=320</text>
<rect x="1401.4" y="46.4" width="316.8" height="132.1" fill="#fff" stroke="#303030" stroke-width="1.3"/>
<line x1="1430.0" y1="64.5" x2="1475.8" y2="64.5" stroke="#0000FF" stroke-width="2.0"/>
<text x="1479.3" y="73.8" font-size="24.7" fill="#000" stroke="#000" stroke-width="0.35">TE=400μs,NE=320</text>
<line x1="1430.0" y1="96.5" x2="1475.8" y2="96.5" stroke="#D95319" stroke-width="2.0"/>
<text x="1479.3" y="105.8" font-size="24.7" fill="#000" stroke="#000" stroke-width="0.35">TE=600μs,NE=200</text>
<line x1="1430.0" y1="128.7" x2="1475.8" y2="128.7" stroke="#FF0000" stroke-width="2.0"/>
<text x="1479.3" y="138.0" font-size="24.7" fill="#000" stroke="#000" stroke-width="0.35">TE=900μs,NE=100</text>
<line x1="1430.0" y1="160.8" x2="1475.8" y2="160.8" stroke="#00FF00" stroke-width="2.0"/>
<text x="1479.3" y="170.1" font-size="24.7" fill="#000" stroke="#000" stroke-width="0.35">TE=200μs,NE=600</text>
</svg>
</body></html>
